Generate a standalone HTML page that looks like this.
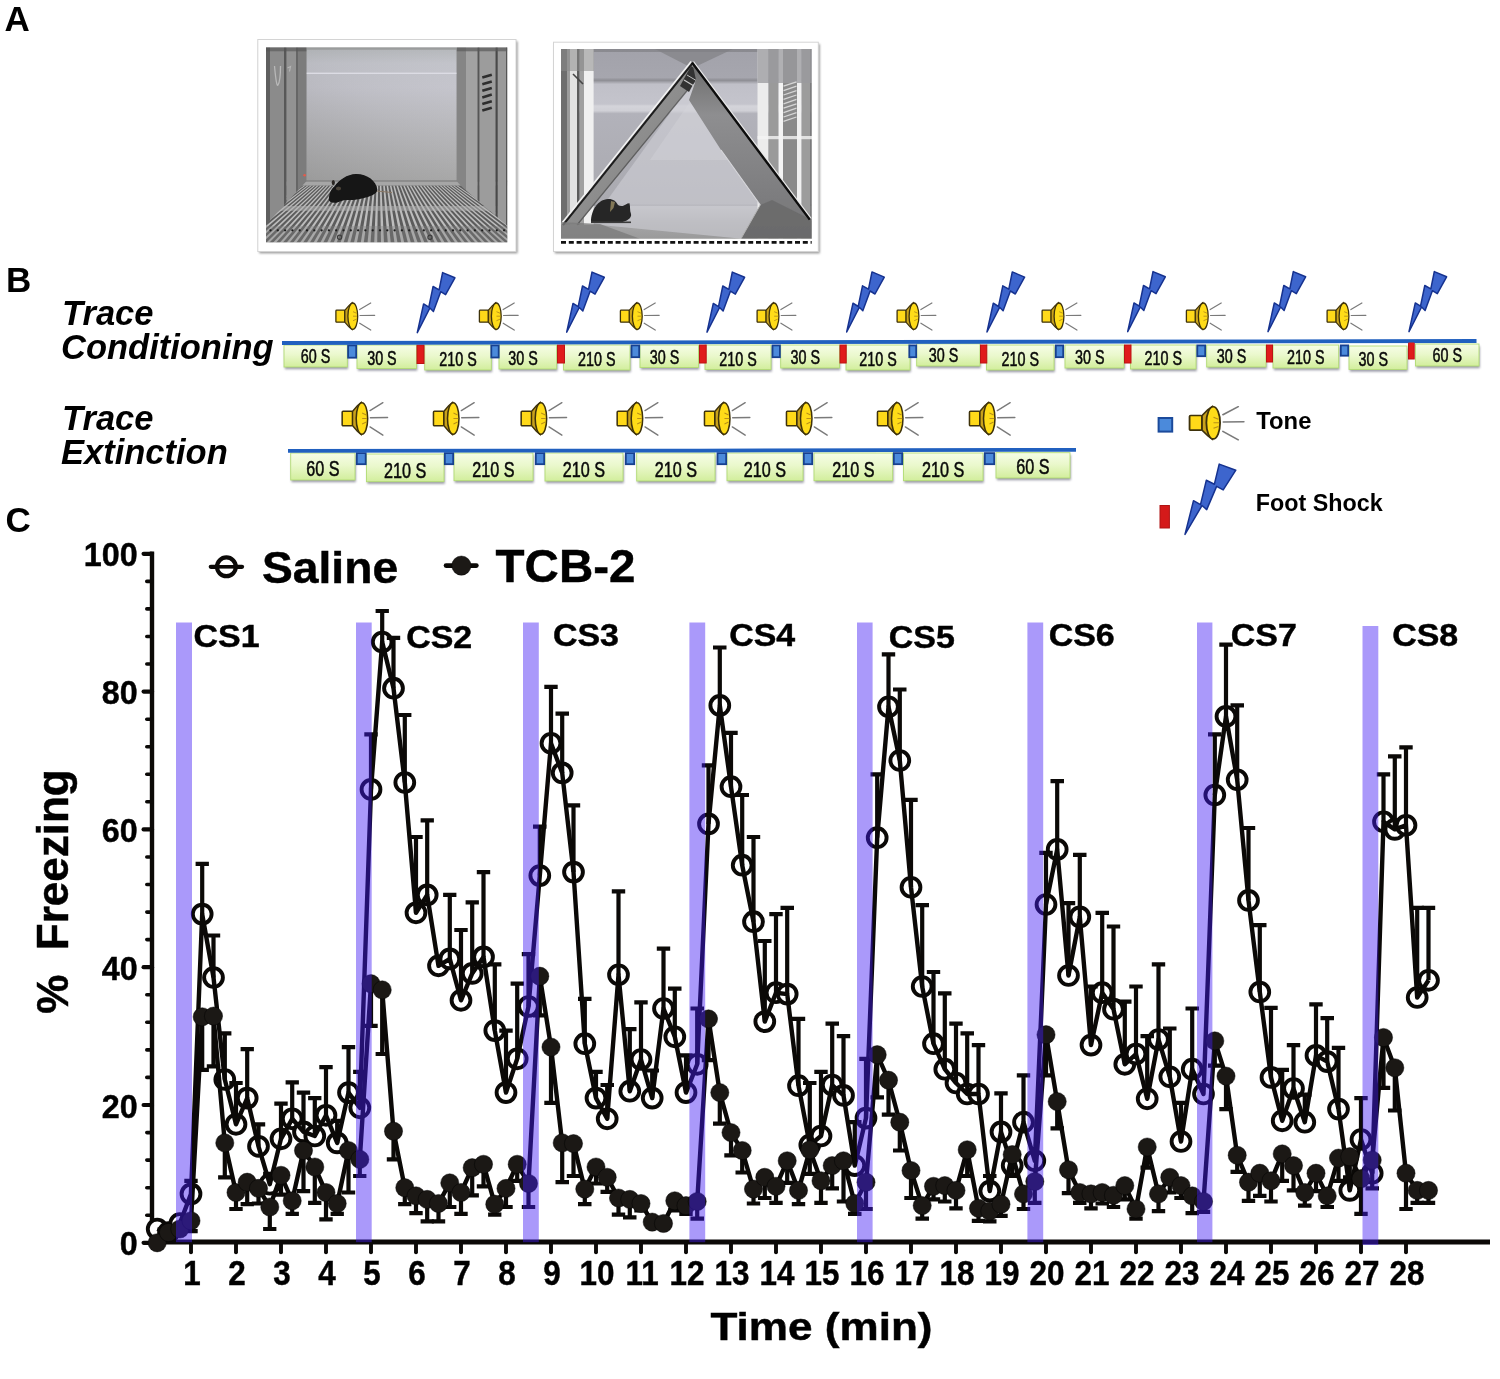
<!DOCTYPE html>
<html lang="en"><head><meta charset="utf-8"><title>Trace fear conditioning: Saline vs TCB-2</title>
<style>html,body{margin:0;padding:0;background:#fff}svg{display:block}</style></head><body>
<svg width="1500" height="1379" viewBox="0 0 1500 1379">
<defs>
<filter id="blur1" x="-10%" y="-30%" width="120%" height="160%"><feGaussianBlur stdDeviation="0.9"/></filter>
<filter id="blur05" x="-2%" y="-2%" width="104%" height="104%"><feGaussianBlur stdDeviation="0.55"/></filter>
<filter id="blur2" x="-5%" y="-5%" width="110%" height="110%"><feGaussianBlur stdDeviation="1.2"/></filter>
<linearGradient id="gb" x1="0" y1="0" x2="0" y2="1"><stop offset="0" stop-color="#f6fde6"/><stop offset="0.45" stop-color="#eaf8cc"/><stop offset="1" stop-color="#d2ee9c"/></linearGradient>
<linearGradient id="bw1" x1="0" y1="0" x2="0" y2="1"><stop offset="0" stop-color="#b0b3b6"/><stop offset="0.12" stop-color="#c0c1c8"/><stop offset="0.3" stop-color="#c3c3cb"/><stop offset="0.6" stop-color="#b8b8bc"/><stop offset="1" stop-color="#a9a9a9"/></linearGradient>
<linearGradient id="bw1d" x1="0" y1="1" x2="1" y2="0"><stop offset="0" stop-color="#808080" stop-opacity="0.35"/><stop offset="0.5" stop-color="#909090" stop-opacity="0.08"/><stop offset="1" stop-color="#fff" stop-opacity="0.05"/></linearGradient>
<linearGradient id="bw2" x1="0" y1="0" x2="0" y2="1"><stop offset="0" stop-color="#a2a2aa"/><stop offset="0.15" stop-color="#a6a6ae"/><stop offset="0.165" stop-color="#8e8e94"/><stop offset="0.185" stop-color="#c0c0c8"/><stop offset="0.29" stop-color="#c4c4cc"/><stop offset="0.30" stop-color="#d4d4da"/><stop offset="0.325" stop-color="#d0d0d6"/><stop offset="0.34" stop-color="#b2b2ba"/><stop offset="0.8" stop-color="#aaaab0"/><stop offset="1" stop-color="#a4a4a8"/></linearGradient>
<linearGradient id="fl2" x1="0" y1="0" x2="0" y2="1"><stop offset="0" stop-color="#bcbcc0"/><stop offset="0.5" stop-color="#a6a6a8"/><stop offset="1" stop-color="#9a9a9a"/></linearGradient>
<linearGradient id="lp2" x1="0" y1="0" x2="1" y2="1"><stop offset="0" stop-color="#6e6e6e"/><stop offset="0.5" stop-color="#8e8e8e"/><stop offset="1" stop-color="#7a7a7a"/></linearGradient>
<linearGradient id="rp2" x1="0" y1="0" x2="0" y2="1"><stop offset="0" stop-color="#6a6a6a"/><stop offset="0.3" stop-color="#8e8e90"/><stop offset="1" stop-color="#747476"/></linearGradient>
<clipPath id="cp1"><rect x="266" y="47.3" width="241.5" height="195.3"/></clipPath>
<clipPath id="cp1L"><polygon points="266,47.3 306.6,47.3 306.6,181 300.8,187.3 266,224.7"/></clipPath>
<clipPath id="cp1R"><polygon points="456.6,47.3 507.6,47.3 507.6,226 462,187 456.6,181"/></clipPath>
<clipPath id="cp2"><rect x="561" y="49" width="250.8" height="189.8"/></clipPath>
</defs>
<rect width="1500" height="1379" fill="#fff"/>
<g font-family="'Liberation Sans', Arial, sans-serif" font-weight="bold" font-size="35" fill="#000">
<text x="4.5" y="31">A</text>
<text x="6" y="292">B</text>
<text x="5.5" y="532">C</text>
</g>
<g id="photo1">
<rect x="259.2" y="41.3" width="258.4" height="212" fill="#9a9a9a" filter="url(#blur2)"/>
<rect x="257.8" y="39.5" width="258.2" height="212" fill="#fff" stroke="#d4d4d4" stroke-width="1"/>
<g clip-path="url(#cp1)"><g filter="url(#blur05)">
<rect x="266" y="47.3" width="241.5" height="195.3" fill="#8c8c8c"/>
<rect x="306.4" y="47.3" width="150.2" height="134" fill="url(#bw1)"/>
<rect x="306.4" y="47.3" width="150.2" height="134" fill="url(#bw1d)"/>
<rect x="306.4" y="72.6" width="150.2" height="1.4" fill="#dcdce4"/>
<rect x="306.4" y="47.3" width="150.2" height="2.4" fill="#9a9c9c"/>
<polygon points="300.8,181 457,181 507.5,226 507.5,242.6 266,242.6 266,224.7" fill="#5c5c5c"/>
<polygon points="300.8,185.5 302.2,185.5 221.6,243 218.6,243" fill="#bdbdbd"/>
<polygon points="304.1,185.5 305.6,185.5 228.4,243 225.4,243" fill="#bdbdbd"/>
<polygon points="307.4,185.5 308.9,185.5 235.2,243 232.2,243" fill="#bdbdbd"/>
<polygon points="310.6,185.5 312.1,185.5 241.9,243 238.9,243" fill="#bdbdbd"/>
<polygon points="313.9,185.5 315.4,185.5 248.7,243 245.7,243" fill="#bdbdbd"/>
<polygon points="317.2,185.5 318.8,185.5 255.5,243 252.5,243" fill="#bdbdbd"/>
<polygon points="320.6,185.5 322.1,185.5 262.2,243 259.2,243" fill="#bdbdbd"/>
<polygon points="323.9,185.5 325.4,185.5 269,243 266,243" fill="#bdbdbd"/>
<polygon points="327.1,185.5 328.6,185.5 275.7,243 272.7,243" fill="#bdbdbd"/>
<polygon points="330.4,185.5 331.9,185.5 282.5,243 279.5,243" fill="#bdbdbd"/>
<polygon points="333.8,185.5 335.2,185.5 289.3,243 286.3,243" fill="#bdbdbd"/>
<polygon points="337.1,185.5 338.6,185.5 296,243 293,243" fill="#bdbdbd"/>
<polygon points="340.4,185.5 341.9,185.5 302.8,243 299.8,243" fill="#bdbdbd"/>
<polygon points="343.6,185.5 345.1,185.5 309.6,243 306.6,243" fill="#bdbdbd"/>
<polygon points="346.9,185.5 348.4,185.5 316.3,243 313.3,243" fill="#bdbdbd"/>
<polygon points="350.2,185.5 351.8,185.5 323.1,243 320.1,243" fill="#bdbdbd"/>
<polygon points="353.6,185.5 355.1,185.5 329.9,243 326.9,243" fill="#bdbdbd"/>
<polygon points="356.9,185.5 358.4,185.5 336.6,243 333.6,243" fill="#bdbdbd"/>
<polygon points="360.1,185.5 361.6,185.5 343.4,243 340.4,243" fill="#bdbdbd"/>
<polygon points="363.4,185.5 364.9,185.5 350.2,243 347.2,243" fill="#bdbdbd"/>
<polygon points="366.8,185.5 368.2,185.5 356.9,243 353.9,243" fill="#bdbdbd"/>
<polygon points="370.1,185.5 371.6,185.5 363.7,243 360.7,243" fill="#bdbdbd"/>
<polygon points="373.4,185.5 374.9,185.5 370.5,243 367.5,243" fill="#bdbdbd"/>
<polygon points="376.6,185.5 378.1,185.5 377.2,243 374.2,243" fill="#bdbdbd"/>
<polygon points="379.9,185.5 381.4,185.5 384,243 381,243" fill="#bdbdbd"/>
<polygon points="383.2,185.5 384.8,185.5 390.8,243 387.8,243" fill="#bdbdbd"/>
<polygon points="386.6,185.5 388.1,185.5 397.5,243 394.5,243" fill="#bdbdbd"/>
<polygon points="389.9,185.5 391.4,185.5 404.3,243 401.3,243" fill="#bdbdbd"/>
<polygon points="393.1,185.5 394.6,185.5 411,243 408,243" fill="#bdbdbd"/>
<polygon points="396.4,185.5 397.9,185.5 417.8,243 414.8,243" fill="#bdbdbd"/>
<polygon points="399.8,185.5 401.2,185.5 424.6,243 421.6,243" fill="#bdbdbd"/>
<polygon points="403.1,185.5 404.6,185.5 431.3,243 428.3,243" fill="#bdbdbd"/>
<polygon points="406.4,185.5 407.9,185.5 438.1,243 435.1,243" fill="#bdbdbd"/>
<polygon points="409.6,185.5 411.1,185.5 444.9,243 441.9,243" fill="#bdbdbd"/>
<polygon points="412.9,185.5 414.4,185.5 451.6,243 448.6,243" fill="#bdbdbd"/>
<polygon points="416.2,185.5 417.8,185.5 458.4,243 455.4,243" fill="#bdbdbd"/>
<polygon points="419.6,185.5 421.1,185.5 465.2,243 462.2,243" fill="#bdbdbd"/>
<polygon points="422.9,185.5 424.4,185.5 471.9,243 468.9,243" fill="#bdbdbd"/>
<polygon points="426.1,185.5 427.6,185.5 478.7,243 475.7,243" fill="#bdbdbd"/>
<polygon points="429.4,185.5 430.9,185.5 485.5,243 482.5,243" fill="#bdbdbd"/>
<polygon points="432.8,185.5 434.2,185.5 492.2,243 489.2,243" fill="#bdbdbd"/>
<polygon points="436,185.5 437.5,185.5 499,243 496,243" fill="#bdbdbd"/>
<polygon points="439.4,185.5 440.9,185.5 505.8,243 502.8,243" fill="#bdbdbd"/>
<polygon points="442.6,185.5 444.1,185.5 512.5,243 509.5,243" fill="#bdbdbd"/>
<polygon points="445.9,185.5 447.4,185.5 519.3,243 516.3,243" fill="#bdbdbd"/>
<polygon points="449.2,185.5 450.8,185.5 526,243 523,243" fill="#bdbdbd"/>
<polygon points="452.5,185.5 454,185.5 532.8,243 529.8,243" fill="#bdbdbd"/>
<polygon points="455.9,185.5 457.4,185.5 539.6,243 536.6,243" fill="#bdbdbd"/>
<rect x="266" y="181" width="241.5" height="4.6" fill="#a6a6a6"/>
<rect x="266" y="180.4" width="241.5" height="1.2" fill="#7c7c7c"/>
<rect x="266" y="206" width="241.5" height="4.8" fill="#b4b4b4" opacity="0.55"/>
<rect x="266" y="226" width="241.5" height="17" fill="#808080" opacity="0.35"/>
<circle cx="270.5" cy="230.3" r="1.15" fill="#1c1c1c"/>
<circle cx="277.8" cy="230.3" r="1.15" fill="#1c1c1c"/>
<circle cx="285.1" cy="230.3" r="1.15" fill="#1c1c1c"/>
<circle cx="292.4" cy="230.3" r="1.15" fill="#1c1c1c"/>
<circle cx="299.7" cy="230.3" r="1.15" fill="#1c1c1c"/>
<circle cx="307" cy="230.3" r="1.15" fill="#1c1c1c"/>
<circle cx="314.3" cy="230.3" r="1.15" fill="#1c1c1c"/>
<circle cx="321.6" cy="230.3" r="1.15" fill="#1c1c1c"/>
<circle cx="328.9" cy="230.3" r="1.15" fill="#1c1c1c"/>
<circle cx="336.2" cy="230.3" r="1.15" fill="#1c1c1c"/>
<circle cx="343.5" cy="230.3" r="1.15" fill="#1c1c1c"/>
<circle cx="350.8" cy="230.3" r="1.15" fill="#1c1c1c"/>
<circle cx="358.1" cy="230.3" r="1.15" fill="#1c1c1c"/>
<circle cx="365.4" cy="230.3" r="1.15" fill="#1c1c1c"/>
<circle cx="372.7" cy="230.3" r="1.15" fill="#1c1c1c"/>
<circle cx="380" cy="230.3" r="1.15" fill="#1c1c1c"/>
<circle cx="387.3" cy="230.3" r="1.15" fill="#1c1c1c"/>
<circle cx="394.6" cy="230.3" r="1.15" fill="#1c1c1c"/>
<circle cx="401.9" cy="230.3" r="1.15" fill="#1c1c1c"/>
<circle cx="409.2" cy="230.3" r="1.15" fill="#1c1c1c"/>
<circle cx="416.5" cy="230.3" r="1.15" fill="#1c1c1c"/>
<circle cx="423.8" cy="230.3" r="1.15" fill="#1c1c1c"/>
<circle cx="431.1" cy="230.3" r="1.15" fill="#1c1c1c"/>
<circle cx="438.4" cy="230.3" r="1.15" fill="#1c1c1c"/>
<circle cx="445.7" cy="230.3" r="1.15" fill="#1c1c1c"/>
<circle cx="453" cy="230.3" r="1.15" fill="#1c1c1c"/>
<circle cx="460.3" cy="230.3" r="1.15" fill="#1c1c1c"/>
<circle cx="467.6" cy="230.3" r="1.15" fill="#1c1c1c"/>
<circle cx="474.9" cy="230.3" r="1.15" fill="#1c1c1c"/>
<circle cx="482.2" cy="230.3" r="1.15" fill="#1c1c1c"/>
<circle cx="489.5" cy="230.3" r="1.15" fill="#1c1c1c"/>
<circle cx="496.8" cy="230.3" r="1.15" fill="#1c1c1c"/>
<circle cx="504.1" cy="230.3" r="1.15" fill="#1c1c1c"/>
<circle cx="511.4" cy="230.3" r="1.15" fill="#1c1c1c"/>
<circle cx="339.6" cy="237.2" r="2.1" fill="none" stroke="#3c3c3c" stroke-width="1.2"/>
<circle cx="430" cy="237.2" r="2.1" fill="none" stroke="#3c3c3c" stroke-width="1.2"/>
<g clip-path="url(#cp1L)">
<rect x="266" y="47" width="4" height="200" fill="#5e5e5e"/>
<rect x="270" y="47" width="14" height="200" fill="#8b8b8b"/>
<rect x="284" y="47" width="2.6" height="200" fill="#585858"/>
<rect x="286.6" y="47" width="9.4" height="200" fill="#929292"/>
<rect x="296" y="47" width="2" height="200" fill="#666"/>
<rect x="298" y="47" width="8.6" height="200" fill="#7b7b7b"/>
<path d="M274.5,66 q2,22 3.5,19 q2.5,-4 2.5,-19" fill="none" stroke="#b8b8b8" stroke-width="1.3"/>
<path d="M287.5,68 l3,-1.5 l-1,5" fill="none" stroke="#b4b4b4" stroke-width="1.2"/>
</g>
<g clip-path="url(#cp1R)">
<rect x="456.6" y="47" width="9.4" height="200" fill="#858585"/>
<rect x="466" y="47" width="11.6" height="200" fill="#a2a2a2"/>
<rect x="477.6" y="47" width="2" height="200" fill="#565656"/>
<rect x="479.6" y="47" width="16" height="200" fill="#9c9c9c"/>
<rect x="495.6" y="47" width="2.2" height="200" fill="#484848"/>
<rect x="497.8" y="47" width="8.2" height="200" fill="#9a9a9a"/>
<rect x="506" y="47" width="1.6" height="200" fill="#555"/>
<line x1="482.3" y1="77.6" x2="491.8" y2="74.8" stroke="#2e2e2e" stroke-width="2.6"/>
<line x1="482.3" y1="84.2" x2="491.8" y2="81.4" stroke="#2e2e2e" stroke-width="2.6"/>
<line x1="482.3" y1="90.8" x2="491.8" y2="88" stroke="#2e2e2e" stroke-width="2.6"/>
<line x1="482.3" y1="97.4" x2="491.8" y2="94.6" stroke="#2e2e2e" stroke-width="2.6"/>
<line x1="482.3" y1="104" x2="491.8" y2="101.2" stroke="#2e2e2e" stroke-width="2.6"/>
<line x1="482.3" y1="110.6" x2="491.8" y2="107.8" stroke="#2e2e2e" stroke-width="2.6"/>
<rect x="456.6" y="47.3" width="51" height="4" fill="#5a5a5a" opacity="0.7"/>
</g>
<rect x="266" y="47.3" width="40.4" height="4" fill="#555" opacity="0.6"/>
<circle cx="304.6" cy="175.2" r="1.3" fill="#e65a4a"/>
<path d="M376.5,191 L392,192.5" stroke="#8a7866" stroke-width="1.1" fill="none"/>
<path d="M328.8,199.8 C329,194 331,189 334.5,186.5 C339,180 347,174.3 356,174 C367,173.8 376.5,181 377.3,189.5 C377.5,194 370,196.5 362,198.5 C352,201 345,199 340,201.5 C336,203.5 329.5,203.5 328.8,199.8 Z" fill="#121212"/>
<ellipse cx="333.3" cy="182.6" rx="1.6" ry="2.6" fill="#2a2622"/>
<ellipse cx="338.5" cy="188.5" rx="2.6" ry="2.1" fill="#4a4238"/>
</g></g>
</g>
<g id="photo2">
<rect x="554.8" y="44" width="265" height="209.4" fill="#9a9a9a" filter="url(#blur2)"/>
<rect x="553.5" y="42.2" width="264.8" height="209.3" fill="#fff" stroke="#d4d4d4" stroke-width="1"/>
<g clip-path="url(#cp2)"><g filter="url(#blur05)">
<rect x="561" y="49" width="250.7" height="190" fill="url(#bw2)"/>
<rect x="561" y="205.5" width="250.7" height="33.5" fill="url(#fl2)"/>
<rect x="561" y="204.6" width="250.7" height="1.2" fill="#8e8e92" opacity="0.8"/>
<polygon points="655,49 733,49 697,66 688,66" fill="#8b8b90"/>
<polygon points="561,49 811.7,49 811.7,52 561,52" fill="#808084" opacity="0.7"/>
<polygon points="694,80 590,224 742,238.7 760,205" fill="#cfcfd6" opacity="0.6"/>
<polygon points="694,96 650,160 735,160 " fill="#d8d8de" opacity="0.35"/>
<rect x="561" y="49" width="6" height="176" fill="#6e6e6e"/>
<rect x="567" y="49" width="3" height="176" fill="#9c9c9c"/>
<rect x="570" y="49" width="7" height="176" fill="#e2e2e2"/>
<rect x="577" y="49" width="2.6" height="176" fill="#5c5c5c"/>
<rect x="579.6" y="49" width="4.4" height="176" fill="#a0a0a0"/>
<rect x="584" y="49" width="9.6" height="176" fill="#f0f0f0"/>
<rect x="561" y="49" width="33" height="22" fill="#8a8a8a" opacity="0.55"/>
<line x1="573" y1="74" x2="583" y2="84" stroke="#444" stroke-width="1.6"/>
<rect x="757.5" y="49" width="11" height="190" fill="#ececec"/>
<rect x="768.5" y="49" width="10.1" height="190" fill="#9a9a9a"/>
<rect x="778.6" y="49" width="4.4" height="190" fill="#f4f4f4"/>
<rect x="783" y="49" width="14" height="190" fill="#8a8a8a"/>
<rect x="797" y="49" width="4.6" height="190" fill="#f0f0f0"/>
<rect x="801.6" y="49" width="8.6" height="190" fill="#9c9c9c"/>
<rect x="810.2" y="49" width="1.6" height="190" fill="#6e6e6e"/>
<rect x="757.5" y="49" width="54.5" height="34" fill="#9a9a9e" opacity="0.75"/>
<line x1="783.5" y1="86.2" x2="796.5" y2="81.8" stroke="#d6d6d6" stroke-width="1.3"/>
<line x1="783.5" y1="90.6" x2="796.5" y2="86.2" stroke="#d6d6d6" stroke-width="1.3"/>
<line x1="783.5" y1="95" x2="796.5" y2="90.6" stroke="#d6d6d6" stroke-width="1.3"/>
<line x1="783.5" y1="99.4" x2="796.5" y2="95" stroke="#d6d6d6" stroke-width="1.3"/>
<line x1="783.5" y1="103.8" x2="796.5" y2="99.4" stroke="#d6d6d6" stroke-width="1.3"/>
<line x1="783.5" y1="108.2" x2="796.5" y2="103.8" stroke="#d6d6d6" stroke-width="1.3"/>
<line x1="783.5" y1="112.6" x2="796.5" y2="108.2" stroke="#d6d6d6" stroke-width="1.3"/>
<line x1="783.5" y1="117" x2="796.5" y2="112.6" stroke="#d6d6d6" stroke-width="1.3"/>
<line x1="783.5" y1="121.4" x2="796.5" y2="117" stroke="#d6d6d6" stroke-width="1.3"/>
<rect x="757.5" y="136" width="54.5" height="3.2" fill="#f4f4f4" opacity="0.8"/>
<polygon points="692.1,62.1 699,76 578,224.7 562,224.7" fill="url(#lp2)"/>
<line x1="691.2" y1="61.6" x2="560.8" y2="224.6" stroke="#f2f2f2" stroke-width="1.6"/>
<line x1="693" y1="62.6" x2="563" y2="225.2" stroke="#1c1c1c" stroke-width="2"/>
<line x1="697.5" y1="78" x2="577" y2="225" stroke="#4a4a4a" stroke-width="1.2" opacity="0.7"/>
<polygon points="691,66 700,72 689,92 680,86" fill="#333"/>
<line x1="684" y1="80" x2="694" y2="86" stroke="#c8c8c8" stroke-width="1.2"/>
<line x1="687" y1="75" x2="697" y2="81" stroke="#bdbdbd" stroke-width="1"/>
<polygon points="692.1,62.1 809.8,219.1 811.8,238.7 741,238.7 760.3,205 721,150 689,100 696,80" fill="url(#rp2)"/>
<polygon points="760.3,205 741,238.7 811.8,238.7 811.8,221 809.8,219.1 772,200" fill="#6a6a6a" opacity="0.85"/>
<line x1="760.3" y1="205" x2="741" y2="238.7" stroke="#b4b4b4" stroke-width="1"/>
<line x1="721" y1="150" x2="760.3" y2="205" stroke="#d8d8dc" stroke-width="1.1"/>
<line x1="693.5" y1="61.6" x2="811.2" y2="218.6" stroke="#e8e8e8" stroke-width="1.3"/>
<line x1="692.1" y1="62.6" x2="809.8" y2="219.6" stroke="#0c0c0c" stroke-width="2.4"/>
<polygon points="561,222 600,224 640,238.7 561,238.7" fill="#7c7c7c" opacity="0.8"/>
<path d="M591,222 C591,210 598,199.5 608,199 C613,198.8 616,201 618,205 C621,207 624,206 627.5,203.5 L629.5,203.2 C630.5,207 629.5,210 631,214 C632,218 627,221.5 620,222.3 Z" fill="#262626"/>
<path d="M611,201 l4,1 l-1.5,6 l-3.5,4 z" fill="#9a8c64" opacity="0.8"/>
<rect x="591" y="221.5" width="40" height="1.6" fill="#3a3a3a"/>
</g></g>
<line x1="561" y1="242.4" x2="811.7" y2="242.4" stroke="#121212" stroke-width="2.6" stroke-dasharray="5 2.8"/>
</g>
<g font-family="'Liberation Sans', Arial, sans-serif">
<g font-weight="bold" font-style="italic" font-size="34.5" fill="#000">
<text x="62" y="325">Trace</text>
<text x="61" y="359">Conditioning</text>
<text x="62" y="430">Trace</text>
<text x="61" y="464">Extinction</text>
</g>
<rect x="284.8" y="347.2" width="63.3" height="22" fill="#7c7c8c" opacity="0.75" filter="url(#blur1)"/>
<rect x="284" y="345" width="63.3" height="22" fill="url(#gb)" stroke="#b2dc74" stroke-width="0.9"/>
<text transform="translate(315.6,363) scale(0.7,1)" text-anchor="middle" font-size="20.5" fill="#0a0a0a" stroke="#0a0a0a" stroke-width="0.55">60 S</text>
<rect x="357.8" y="347.2" width="59.5" height="23.5" fill="#7c7c8c" opacity="0.75" filter="url(#blur1)"/>
<rect x="357" y="345" width="59.5" height="23.5" fill="url(#gb)" stroke="#b2dc74" stroke-width="0.9"/>
<text transform="translate(381.9,364.5) scale(0.7,1)" text-anchor="middle" font-size="20.5" fill="#0a0a0a" stroke="#0a0a0a" stroke-width="0.55">30 S</text>
<rect x="425.5" y="347.2" width="66.6" height="25" fill="#7c7c8c" opacity="0.75" filter="url(#blur1)"/>
<rect x="424.7" y="345" width="66.6" height="25" fill="url(#gb)" stroke="#b2dc74" stroke-width="0.9"/>
<text transform="translate(458,366) scale(0.7,1)" text-anchor="middle" font-size="20.5" fill="#0a0a0a" stroke="#0a0a0a" stroke-width="0.55">210 S</text>
<rect x="499.8" y="347.2" width="57.7" height="24" fill="#7c7c8c" opacity="0.75" filter="url(#blur1)"/>
<rect x="499" y="345" width="57.7" height="24" fill="url(#gb)" stroke="#b2dc74" stroke-width="0.9"/>
<text transform="translate(523.1,365) scale(0.7,1)" text-anchor="middle" font-size="20.5" fill="#0a0a0a" stroke="#0a0a0a" stroke-width="0.55">30 S</text>
<rect x="564.3" y="347.2" width="66.5" height="25" fill="#7c7c8c" opacity="0.75" filter="url(#blur1)"/>
<rect x="563.5" y="345" width="66.5" height="25" fill="url(#gb)" stroke="#b2dc74" stroke-width="0.9"/>
<text transform="translate(596.8,366) scale(0.7,1)" text-anchor="middle" font-size="20.5" fill="#0a0a0a" stroke="#0a0a0a" stroke-width="0.55">210 S</text>
<rect x="640.8" y="347.2" width="58.5" height="22.5" fill="#7c7c8c" opacity="0.75" filter="url(#blur1)"/>
<rect x="640" y="345" width="58.5" height="22.5" fill="url(#gb)" stroke="#b2dc74" stroke-width="0.9"/>
<text transform="translate(664.5,363.5) scale(0.7,1)" text-anchor="middle" font-size="20.5" fill="#0a0a0a" stroke="#0a0a0a" stroke-width="0.55">30 S</text>
<rect x="705.8" y="347.2" width="66" height="24.5" fill="#7c7c8c" opacity="0.75" filter="url(#blur1)"/>
<rect x="705" y="345" width="66" height="24.5" fill="url(#gb)" stroke="#b2dc74" stroke-width="0.9"/>
<text transform="translate(738,365.5) scale(0.7,1)" text-anchor="middle" font-size="20.5" fill="#0a0a0a" stroke="#0a0a0a" stroke-width="0.55">210 S</text>
<rect x="781.5" y="347.2" width="58.8" height="23" fill="#7c7c8c" opacity="0.75" filter="url(#blur1)"/>
<rect x="780.7" y="345" width="58.8" height="23" fill="url(#gb)" stroke="#b2dc74" stroke-width="0.9"/>
<text transform="translate(805.3,364) scale(0.7,1)" text-anchor="middle" font-size="20.5" fill="#0a0a0a" stroke="#0a0a0a" stroke-width="0.55">30 S</text>
<rect x="846.8" y="347.2" width="64" height="25" fill="#7c7c8c" opacity="0.75" filter="url(#blur1)"/>
<rect x="846" y="345" width="64" height="25" fill="url(#gb)" stroke="#b2dc74" stroke-width="0.9"/>
<text transform="translate(878,366) scale(0.7,1)" text-anchor="middle" font-size="20.5" fill="#0a0a0a" stroke="#0a0a0a" stroke-width="0.55">210 S</text>
<rect x="917.5" y="346" width="63.3" height="22.2" fill="#7c7c8c" opacity="0.75" filter="url(#blur1)"/>
<rect x="916.7" y="343.8" width="63.3" height="22.2" fill="url(#gb)" stroke="#b2dc74" stroke-width="0.9"/>
<text transform="translate(943.6,362) scale(0.7,1)" text-anchor="middle" font-size="20.5" fill="#0a0a0a" stroke="#0a0a0a" stroke-width="0.55">30 S</text>
<rect x="987.3" y="347.2" width="67.5" height="25" fill="#7c7c8c" opacity="0.75" filter="url(#blur1)"/>
<rect x="986.5" y="345" width="67.5" height="25" fill="url(#gb)" stroke="#b2dc74" stroke-width="0.9"/>
<text transform="translate(1020.2,366) scale(0.7,1)" text-anchor="middle" font-size="20.5" fill="#0a0a0a" stroke="#0a0a0a" stroke-width="0.55">210 S</text>
<rect x="1065.8" y="347.2" width="59" height="23" fill="#7c7c8c" opacity="0.75" filter="url(#blur1)"/>
<rect x="1065" y="345" width="59" height="23" fill="url(#gb)" stroke="#b2dc74" stroke-width="0.9"/>
<text transform="translate(1089.7,364) scale(0.7,1)" text-anchor="middle" font-size="20.5" fill="#0a0a0a" stroke="#0a0a0a" stroke-width="0.55">30 S</text>
<rect x="1131.3" y="347.2" width="65.5" height="24" fill="#7c7c8c" opacity="0.75" filter="url(#blur1)"/>
<rect x="1130.5" y="345" width="65.5" height="24" fill="url(#gb)" stroke="#b2dc74" stroke-width="0.9"/>
<text transform="translate(1163.2,365) scale(0.7,1)" text-anchor="middle" font-size="20.5" fill="#0a0a0a" stroke="#0a0a0a" stroke-width="0.55">210 S</text>
<rect x="1207.5" y="347.2" width="59.3" height="22" fill="#7c7c8c" opacity="0.75" filter="url(#blur1)"/>
<rect x="1206.7" y="345" width="59.3" height="22" fill="url(#gb)" stroke="#b2dc74" stroke-width="0.9"/>
<text transform="translate(1231.5,363) scale(0.7,1)" text-anchor="middle" font-size="20.5" fill="#0a0a0a" stroke="#0a0a0a" stroke-width="0.55">30 S</text>
<rect x="1273.8" y="347.2" width="65.7" height="23" fill="#7c7c8c" opacity="0.75" filter="url(#blur1)"/>
<rect x="1273" y="345" width="65.7" height="23" fill="url(#gb)" stroke="#b2dc74" stroke-width="0.9"/>
<text transform="translate(1305.8,364) scale(0.7,1)" text-anchor="middle" font-size="20.5" fill="#0a0a0a" stroke="#0a0a0a" stroke-width="0.55">210 S</text>
<rect x="1349.8" y="348.2" width="58" height="23.5" fill="#7c7c8c" opacity="0.75" filter="url(#blur1)"/>
<rect x="1349" y="346" width="58" height="23.5" fill="url(#gb)" stroke="#b2dc74" stroke-width="0.9"/>
<text transform="translate(1373.2,365.5) scale(0.7,1)" text-anchor="middle" font-size="20.5" fill="#0a0a0a" stroke="#0a0a0a" stroke-width="0.55">30 S</text>
<rect x="1416.3" y="346.2" width="63.5" height="22" fill="#7c7c8c" opacity="0.75" filter="url(#blur1)"/>
<rect x="1415.5" y="344" width="63.5" height="22" fill="url(#gb)" stroke="#b2dc74" stroke-width="0.9"/>
<text transform="translate(1447.2,362) scale(0.7,1)" text-anchor="middle" font-size="20.5" fill="#0a0a0a" stroke="#0a0a0a" stroke-width="0.55">60 S</text>
<rect x="348.1" y="345.4" width="8.1" height="12.3" fill="#4b8adb" stroke="#17408f" stroke-width="1.8"/>
<rect x="417" y="345" width="7" height="18.5" fill="#e01b1b" stroke="#bb1515" stroke-width="1"/>
<rect x="491.3" y="345.4" width="7.4" height="12.1" fill="#4b8adb" stroke="#17408f" stroke-width="1.8"/>
<rect x="557.5" y="345" width="7" height="18" fill="#e01b1b" stroke="#bb1515" stroke-width="1"/>
<rect x="631.5" y="345.4" width="7.7" height="11.8" fill="#4b8adb" stroke="#17408f" stroke-width="1.8"/>
<rect x="699.5" y="345" width="6.7" height="18" fill="#e01b1b" stroke="#bb1515" stroke-width="1"/>
<rect x="772.5" y="345.4" width="7.4" height="11.8" fill="#4b8adb" stroke="#17408f" stroke-width="1.8"/>
<rect x="840" y="345" width="6.2" height="18" fill="#e01b1b" stroke="#bb1515" stroke-width="1"/>
<rect x="909.3" y="345.4" width="6.9" height="11.8" fill="#4b8adb" stroke="#17408f" stroke-width="1.8"/>
<rect x="980.5" y="345" width="6.3" height="18" fill="#e01b1b" stroke="#bb1515" stroke-width="1"/>
<rect x="1055.8" y="345.4" width="7.4" height="11.8" fill="#4b8adb" stroke="#17408f" stroke-width="1.8"/>
<rect x="1124.5" y="345" width="6.5" height="18" fill="#e01b1b" stroke="#bb1515" stroke-width="1"/>
<rect x="1197.3" y="345.4" width="7.9" height="10.8" fill="#4b8adb" stroke="#17408f" stroke-width="1.8"/>
<rect x="1266.5" y="345" width="6" height="17" fill="#e01b1b" stroke="#bb1515" stroke-width="1"/>
<rect x="1340.8" y="345.4" width="7.4" height="10.3" fill="#4b8adb" stroke="#17408f" stroke-width="1.8"/>
<rect x="1408.5" y="342.5" width="5.7" height="16.5" fill="#e01b1b" stroke="#bb1515" stroke-width="1"/>
<line x1="282" y1="343" x2="1476.5" y2="341" stroke="#2160bf" stroke-width="3.8"/>
<rect x="1408.5" y="342.5" width="5.7" height="3" fill="#e01b1b"/>
<g transform="translate(335.5,316.2) scale(1.0,1.0)">
<path d="M9,-5.6 L13.4,-10.6 L16.6,-13.3 L16.6,13.3 L13.4,10.6 L9,5.6 Z" fill="#c9a21c" stroke="#3e320a" stroke-width="1.25"/>
<rect x="0.4" y="-6" width="8.8" height="12" rx="0.8" fill="#ffd919" stroke="#3e320a" stroke-width="1.3"/>
<ellipse cx="17.3" cy="0" rx="4.9" ry="13.2" fill="#ffdc18" stroke="#3e320a" stroke-width="1.3"/>
<path d="M17.5,-4.5 L21,-3 M17.5,0 L21.5,0 M17.5,4.5 L21,3" stroke="#b8901a" stroke-width="0.9" fill="none"/>
<path d="M24.2,-6.6 L35.2,-13.2 M24.5,-0.7 L39.2,-0.9 M24.2,7 L35.2,13.9" stroke="#7a7a7a" stroke-width="1.2" fill="none" stroke-linecap="round"/>
</g>
<g transform="translate(479,316.2) scale(1.0,1.0)">
<path d="M9,-5.6 L13.4,-10.6 L16.6,-13.3 L16.6,13.3 L13.4,10.6 L9,5.6 Z" fill="#c9a21c" stroke="#3e320a" stroke-width="1.25"/>
<rect x="0.4" y="-6" width="8.8" height="12" rx="0.8" fill="#ffd919" stroke="#3e320a" stroke-width="1.3"/>
<ellipse cx="17.3" cy="0" rx="4.9" ry="13.2" fill="#ffdc18" stroke="#3e320a" stroke-width="1.3"/>
<path d="M17.5,-4.5 L21,-3 M17.5,0 L21.5,0 M17.5,4.5 L21,3" stroke="#b8901a" stroke-width="0.9" fill="none"/>
<path d="M24.2,-6.6 L35.2,-13.2 M24.5,-0.7 L39.2,-0.9 M24.2,7 L35.2,13.9" stroke="#7a7a7a" stroke-width="1.2" fill="none" stroke-linecap="round"/>
</g>
<g transform="translate(620,316.2) scale(1.0,1.0)">
<path d="M9,-5.6 L13.4,-10.6 L16.6,-13.3 L16.6,13.3 L13.4,10.6 L9,5.6 Z" fill="#c9a21c" stroke="#3e320a" stroke-width="1.25"/>
<rect x="0.4" y="-6" width="8.8" height="12" rx="0.8" fill="#ffd919" stroke="#3e320a" stroke-width="1.3"/>
<ellipse cx="17.3" cy="0" rx="4.9" ry="13.2" fill="#ffdc18" stroke="#3e320a" stroke-width="1.3"/>
<path d="M17.5,-4.5 L21,-3 M17.5,0 L21.5,0 M17.5,4.5 L21,3" stroke="#b8901a" stroke-width="0.9" fill="none"/>
<path d="M24.2,-6.6 L35.2,-13.2 M24.5,-0.7 L39.2,-0.9 M24.2,7 L35.2,13.9" stroke="#7a7a7a" stroke-width="1.2" fill="none" stroke-linecap="round"/>
</g>
<g transform="translate(756.7,316.2) scale(1.0,1.0)">
<path d="M9,-5.6 L13.4,-10.6 L16.6,-13.3 L16.6,13.3 L13.4,10.6 L9,5.6 Z" fill="#c9a21c" stroke="#3e320a" stroke-width="1.25"/>
<rect x="0.4" y="-6" width="8.8" height="12" rx="0.8" fill="#ffd919" stroke="#3e320a" stroke-width="1.3"/>
<ellipse cx="17.3" cy="0" rx="4.9" ry="13.2" fill="#ffdc18" stroke="#3e320a" stroke-width="1.3"/>
<path d="M17.5,-4.5 L21,-3 M17.5,0 L21.5,0 M17.5,4.5 L21,3" stroke="#b8901a" stroke-width="0.9" fill="none"/>
<path d="M24.2,-6.6 L35.2,-13.2 M24.5,-0.7 L39.2,-0.9 M24.2,7 L35.2,13.9" stroke="#7a7a7a" stroke-width="1.2" fill="none" stroke-linecap="round"/>
</g>
<g transform="translate(896.7,316.2) scale(1.0,1.0)">
<path d="M9,-5.6 L13.4,-10.6 L16.6,-13.3 L16.6,13.3 L13.4,10.6 L9,5.6 Z" fill="#c9a21c" stroke="#3e320a" stroke-width="1.25"/>
<rect x="0.4" y="-6" width="8.8" height="12" rx="0.8" fill="#ffd919" stroke="#3e320a" stroke-width="1.3"/>
<ellipse cx="17.3" cy="0" rx="4.9" ry="13.2" fill="#ffdc18" stroke="#3e320a" stroke-width="1.3"/>
<path d="M17.5,-4.5 L21,-3 M17.5,0 L21.5,0 M17.5,4.5 L21,3" stroke="#b8901a" stroke-width="0.9" fill="none"/>
<path d="M24.2,-6.6 L35.2,-13.2 M24.5,-0.7 L39.2,-0.9 M24.2,7 L35.2,13.9" stroke="#7a7a7a" stroke-width="1.2" fill="none" stroke-linecap="round"/>
</g>
<g transform="translate(1041.7,316.2) scale(1.0,1.0)">
<path d="M9,-5.6 L13.4,-10.6 L16.6,-13.3 L16.6,13.3 L13.4,10.6 L9,5.6 Z" fill="#c9a21c" stroke="#3e320a" stroke-width="1.25"/>
<rect x="0.4" y="-6" width="8.8" height="12" rx="0.8" fill="#ffd919" stroke="#3e320a" stroke-width="1.3"/>
<ellipse cx="17.3" cy="0" rx="4.9" ry="13.2" fill="#ffdc18" stroke="#3e320a" stroke-width="1.3"/>
<path d="M17.5,-4.5 L21,-3 M17.5,0 L21.5,0 M17.5,4.5 L21,3" stroke="#b8901a" stroke-width="0.9" fill="none"/>
<path d="M24.2,-6.6 L35.2,-13.2 M24.5,-0.7 L39.2,-0.9 M24.2,7 L35.2,13.9" stroke="#7a7a7a" stroke-width="1.2" fill="none" stroke-linecap="round"/>
</g>
<g transform="translate(1186,316.2) scale(1.0,1.0)">
<path d="M9,-5.6 L13.4,-10.6 L16.6,-13.3 L16.6,13.3 L13.4,10.6 L9,5.6 Z" fill="#c9a21c" stroke="#3e320a" stroke-width="1.25"/>
<rect x="0.4" y="-6" width="8.8" height="12" rx="0.8" fill="#ffd919" stroke="#3e320a" stroke-width="1.3"/>
<ellipse cx="17.3" cy="0" rx="4.9" ry="13.2" fill="#ffdc18" stroke="#3e320a" stroke-width="1.3"/>
<path d="M17.5,-4.5 L21,-3 M17.5,0 L21.5,0 M17.5,4.5 L21,3" stroke="#b8901a" stroke-width="0.9" fill="none"/>
<path d="M24.2,-6.6 L35.2,-13.2 M24.5,-0.7 L39.2,-0.9 M24.2,7 L35.2,13.9" stroke="#7a7a7a" stroke-width="1.2" fill="none" stroke-linecap="round"/>
</g>
<g transform="translate(1326.7,316.2) scale(1.0,1.0)">
<path d="M9,-5.6 L13.4,-10.6 L16.6,-13.3 L16.6,13.3 L13.4,10.6 L9,5.6 Z" fill="#c9a21c" stroke="#3e320a" stroke-width="1.25"/>
<rect x="0.4" y="-6" width="8.8" height="12" rx="0.8" fill="#ffd919" stroke="#3e320a" stroke-width="1.3"/>
<ellipse cx="17.3" cy="0" rx="4.9" ry="13.2" fill="#ffdc18" stroke="#3e320a" stroke-width="1.3"/>
<path d="M17.5,-4.5 L21,-3 M17.5,0 L21.5,0 M17.5,4.5 L21,3" stroke="#b8901a" stroke-width="0.9" fill="none"/>
<path d="M24.2,-6.6 L35.2,-13.2 M24.5,-0.7 L39.2,-0.9 M24.2,7 L35.2,13.9" stroke="#7a7a7a" stroke-width="1.2" fill="none" stroke-linecap="round"/>
</g>
<polygon points="442.6,272.6 454.9,277.8 445.6,294.7 440.7,291.7 433.4,311.5 429.9,308 417.3,332.7 423.6,303.9 428.8,307.2 433.1,286.5 439.1,289.8" fill="#3d65cd" stroke="#16328f" stroke-width="1.5" stroke-linejoin="round"/>
<polygon points="592,272.1 604.3,277.3 595,294.2 590.1,291.2 582.8,311 579.3,307.5 566.7,332.2 573,303.4 578.2,306.7 582.5,286 588.5,289.3" fill="#3d65cd" stroke="#16328f" stroke-width="1.5" stroke-linejoin="round"/>
<polygon points="732.3,272.1 744.6,277.3 735.3,294.2 730.4,291.2 723.1,311 719.6,307.5 707,332.2 713.3,303.4 718.5,306.7 722.8,286 728.8,289.3" fill="#3d65cd" stroke="#16328f" stroke-width="1.5" stroke-linejoin="round"/>
<polygon points="872,271.9 884.3,277.1 875,294 870.1,291 862.8,310.8 859.3,307.3 846.7,332 853,303.2 858.2,306.5 862.5,285.8 868.5,289.1" fill="#3d65cd" stroke="#16328f" stroke-width="1.5" stroke-linejoin="round"/>
<polygon points="1012.3,271.9 1024.6,277.1 1015.3,294 1010.4,291 1003.1,310.8 999.6,307.3 987,332 993.3,303.2 998.5,306.5 1002.8,285.8 1008.8,289.1" fill="#3d65cd" stroke="#16328f" stroke-width="1.5" stroke-linejoin="round"/>
<polygon points="1153,271.6 1165.3,276.8 1156,293.7 1151.1,290.7 1143.8,310.5 1140.3,307 1127.7,331.7 1134,302.9 1139.2,306.2 1143.5,285.5 1149.5,288.8" fill="#3d65cd" stroke="#16328f" stroke-width="1.5" stroke-linejoin="round"/>
<polygon points="1293.3,271.6 1305.6,276.8 1296.3,293.7 1291.4,290.7 1284.1,310.5 1280.6,307 1268,331.7 1274.3,302.9 1279.5,306.2 1283.8,285.5 1289.8,288.8" fill="#3d65cd" stroke="#16328f" stroke-width="1.5" stroke-linejoin="round"/>
<polygon points="1434.3,271.6 1446.6,276.8 1437.3,293.7 1432.4,290.7 1425.1,310.5 1421.6,307 1409,331.7 1415.3,302.9 1420.5,306.2 1424.8,285.5 1430.8,288.8" fill="#3d65cd" stroke="#16328f" stroke-width="1.5" stroke-linejoin="round"/>
<rect x="291.5" y="455.2" width="64.3" height="27" fill="#7c7c8c" opacity="0.75" filter="url(#blur1)"/>
<rect x="290.7" y="453" width="64.3" height="27" fill="url(#gb)" stroke="#b2dc74" stroke-width="0.9"/>
<text transform="translate(322.9,475.8) scale(0.72,1)" text-anchor="middle" font-size="22.5" fill="#0a0a0a" stroke="#0a0a0a" stroke-width="0.55">60 S</text>
<rect x="367.3" y="456.2" width="77.5" height="27.7" fill="#7c7c8c" opacity="0.75" filter="url(#blur1)"/>
<rect x="366.5" y="454" width="77.5" height="27.7" fill="url(#gb)" stroke="#b2dc74" stroke-width="0.9"/>
<text transform="translate(405.2,477.5) scale(0.72,1)" text-anchor="middle" font-size="22.5" fill="#0a0a0a" stroke="#0a0a0a" stroke-width="0.55">210 S</text>
<rect x="454.8" y="455.2" width="79" height="27.7" fill="#7c7c8c" opacity="0.75" filter="url(#blur1)"/>
<rect x="454" y="453" width="79" height="27.7" fill="url(#gb)" stroke="#b2dc74" stroke-width="0.9"/>
<text transform="translate(493.5,476.5) scale(0.72,1)" text-anchor="middle" font-size="22.5" fill="#0a0a0a" stroke="#0a0a0a" stroke-width="0.55">210 S</text>
<rect x="545.8" y="455.2" width="78" height="28" fill="#7c7c8c" opacity="0.75" filter="url(#blur1)"/>
<rect x="545" y="453" width="78" height="28" fill="url(#gb)" stroke="#b2dc74" stroke-width="0.9"/>
<text transform="translate(584,476.8) scale(0.72,1)" text-anchor="middle" font-size="22.5" fill="#0a0a0a" stroke="#0a0a0a" stroke-width="0.55">210 S</text>
<rect x="637.5" y="455.2" width="78.3" height="28" fill="#7c7c8c" opacity="0.75" filter="url(#blur1)"/>
<rect x="636.7" y="453" width="78.3" height="28" fill="url(#gb)" stroke="#b2dc74" stroke-width="0.9"/>
<text transform="translate(675.9,476.8) scale(0.72,1)" text-anchor="middle" font-size="22.5" fill="#0a0a0a" stroke="#0a0a0a" stroke-width="0.55">210 S</text>
<rect x="727.8" y="455.2" width="76" height="27.7" fill="#7c7c8c" opacity="0.75" filter="url(#blur1)"/>
<rect x="727" y="453" width="76" height="27.7" fill="url(#gb)" stroke="#b2dc74" stroke-width="0.9"/>
<text transform="translate(765,476.5) scale(0.72,1)" text-anchor="middle" font-size="22.5" fill="#0a0a0a" stroke="#0a0a0a" stroke-width="0.55">210 S</text>
<rect x="814.8" y="455.2" width="78.7" height="27.7" fill="#7c7c8c" opacity="0.75" filter="url(#blur1)"/>
<rect x="814" y="453" width="78.7" height="27.7" fill="url(#gb)" stroke="#b2dc74" stroke-width="0.9"/>
<text transform="translate(853.4,476.5) scale(0.72,1)" text-anchor="middle" font-size="22.5" fill="#0a0a0a" stroke="#0a0a0a" stroke-width="0.55">210 S</text>
<rect x="904.3" y="455.2" width="79.5" height="27.7" fill="#7c7c8c" opacity="0.75" filter="url(#blur1)"/>
<rect x="903.5" y="453" width="79.5" height="27.7" fill="url(#gb)" stroke="#b2dc74" stroke-width="0.9"/>
<text transform="translate(943.2,476.5) scale(0.72,1)" text-anchor="middle" font-size="22.5" fill="#0a0a0a" stroke="#0a0a0a" stroke-width="0.55">210 S</text>
<rect x="996.8" y="454.9" width="74" height="25.3" fill="#7c7c8c" opacity="0.75" filter="url(#blur1)"/>
<rect x="996" y="452.7" width="74" height="25.3" fill="url(#gb)" stroke="#b2dc74" stroke-width="0.9"/>
<text transform="translate(1033,473.8) scale(0.72,1)" text-anchor="middle" font-size="22.5" fill="#0a0a0a" stroke="#0a0a0a" stroke-width="0.55">60 S</text>
<rect x="356.8" y="453.1" width="8.9" height="11.1" fill="#4b8adb" stroke="#17408f" stroke-width="1.8"/>
<rect x="444.8" y="453.1" width="8.4" height="11.1" fill="#4b8adb" stroke="#17408f" stroke-width="1.8"/>
<rect x="535.8" y="453.1" width="8.4" height="11.1" fill="#4b8adb" stroke="#17408f" stroke-width="1.8"/>
<rect x="625.8" y="453.1" width="8.4" height="11.1" fill="#4b8adb" stroke="#17408f" stroke-width="1.8"/>
<rect x="717.5" y="453.1" width="8.7" height="11.1" fill="#4b8adb" stroke="#17408f" stroke-width="1.8"/>
<rect x="803.8" y="453.1" width="8.4" height="11.1" fill="#4b8adb" stroke="#17408f" stroke-width="1.8"/>
<rect x="893.8" y="453.1" width="8.4" height="11.1" fill="#4b8adb" stroke="#17408f" stroke-width="1.8"/>
<rect x="984.8" y="453.1" width="9.4" height="11.1" fill="#4b8adb" stroke="#17408f" stroke-width="1.8"/>
<path d="M288,450.8 L700,450.6 L1076,449.8" stroke="#2160bf" stroke-width="3.8" fill="none"/>
<g transform="translate(341.7,418.5) scale(1.17,1.2)">
<path d="M9,-5.6 L13.4,-10.6 L16.6,-13.3 L16.6,13.3 L13.4,10.6 L9,5.6 Z" fill="#c9a21c" stroke="#3e320a" stroke-width="1.25"/>
<rect x="0.4" y="-6" width="8.8" height="12" rx="0.8" fill="#ffd919" stroke="#3e320a" stroke-width="1.3"/>
<ellipse cx="17.3" cy="0" rx="4.9" ry="13.2" fill="#ffdc18" stroke="#3e320a" stroke-width="1.3"/>
<path d="M17.5,-4.5 L21,-3 M17.5,0 L21.5,0 M17.5,4.5 L21,3" stroke="#b8901a" stroke-width="0.9" fill="none"/>
<path d="M24.2,-6.6 L35.2,-13.2 M24.5,-0.7 L39.2,-0.9 M24.2,7 L35.2,13.9" stroke="#7a7a7a" stroke-width="1.2" fill="none" stroke-linecap="round"/>
</g>
<g transform="translate(433,418.5) scale(1.17,1.2)">
<path d="M9,-5.6 L13.4,-10.6 L16.6,-13.3 L16.6,13.3 L13.4,10.6 L9,5.6 Z" fill="#c9a21c" stroke="#3e320a" stroke-width="1.25"/>
<rect x="0.4" y="-6" width="8.8" height="12" rx="0.8" fill="#ffd919" stroke="#3e320a" stroke-width="1.3"/>
<ellipse cx="17.3" cy="0" rx="4.9" ry="13.2" fill="#ffdc18" stroke="#3e320a" stroke-width="1.3"/>
<path d="M17.5,-4.5 L21,-3 M17.5,0 L21.5,0 M17.5,4.5 L21,3" stroke="#b8901a" stroke-width="0.9" fill="none"/>
<path d="M24.2,-6.6 L35.2,-13.2 M24.5,-0.7 L39.2,-0.9 M24.2,7 L35.2,13.9" stroke="#7a7a7a" stroke-width="1.2" fill="none" stroke-linecap="round"/>
</g>
<g transform="translate(520.7,418.5) scale(1.17,1.2)">
<path d="M9,-5.6 L13.4,-10.6 L16.6,-13.3 L16.6,13.3 L13.4,10.6 L9,5.6 Z" fill="#c9a21c" stroke="#3e320a" stroke-width="1.25"/>
<rect x="0.4" y="-6" width="8.8" height="12" rx="0.8" fill="#ffd919" stroke="#3e320a" stroke-width="1.3"/>
<ellipse cx="17.3" cy="0" rx="4.9" ry="13.2" fill="#ffdc18" stroke="#3e320a" stroke-width="1.3"/>
<path d="M17.5,-4.5 L21,-3 M17.5,0 L21.5,0 M17.5,4.5 L21,3" stroke="#b8901a" stroke-width="0.9" fill="none"/>
<path d="M24.2,-6.6 L35.2,-13.2 M24.5,-0.7 L39.2,-0.9 M24.2,7 L35.2,13.9" stroke="#7a7a7a" stroke-width="1.2" fill="none" stroke-linecap="round"/>
</g>
<g transform="translate(616.7,418.5) scale(1.17,1.2)">
<path d="M9,-5.6 L13.4,-10.6 L16.6,-13.3 L16.6,13.3 L13.4,10.6 L9,5.6 Z" fill="#c9a21c" stroke="#3e320a" stroke-width="1.25"/>
<rect x="0.4" y="-6" width="8.8" height="12" rx="0.8" fill="#ffd919" stroke="#3e320a" stroke-width="1.3"/>
<ellipse cx="17.3" cy="0" rx="4.9" ry="13.2" fill="#ffdc18" stroke="#3e320a" stroke-width="1.3"/>
<path d="M17.5,-4.5 L21,-3 M17.5,0 L21.5,0 M17.5,4.5 L21,3" stroke="#b8901a" stroke-width="0.9" fill="none"/>
<path d="M24.2,-6.6 L35.2,-13.2 M24.5,-0.7 L39.2,-0.9 M24.2,7 L35.2,13.9" stroke="#7a7a7a" stroke-width="1.2" fill="none" stroke-linecap="round"/>
</g>
<g transform="translate(704,418.5) scale(1.17,1.2)">
<path d="M9,-5.6 L13.4,-10.6 L16.6,-13.3 L16.6,13.3 L13.4,10.6 L9,5.6 Z" fill="#c9a21c" stroke="#3e320a" stroke-width="1.25"/>
<rect x="0.4" y="-6" width="8.8" height="12" rx="0.8" fill="#ffd919" stroke="#3e320a" stroke-width="1.3"/>
<ellipse cx="17.3" cy="0" rx="4.9" ry="13.2" fill="#ffdc18" stroke="#3e320a" stroke-width="1.3"/>
<path d="M17.5,-4.5 L21,-3 M17.5,0 L21.5,0 M17.5,4.5 L21,3" stroke="#b8901a" stroke-width="0.9" fill="none"/>
<path d="M24.2,-6.6 L35.2,-13.2 M24.5,-0.7 L39.2,-0.9 M24.2,7 L35.2,13.9" stroke="#7a7a7a" stroke-width="1.2" fill="none" stroke-linecap="round"/>
</g>
<g transform="translate(786,418.5) scale(1.17,1.2)">
<path d="M9,-5.6 L13.4,-10.6 L16.6,-13.3 L16.6,13.3 L13.4,10.6 L9,5.6 Z" fill="#c9a21c" stroke="#3e320a" stroke-width="1.25"/>
<rect x="0.4" y="-6" width="8.8" height="12" rx="0.8" fill="#ffd919" stroke="#3e320a" stroke-width="1.3"/>
<ellipse cx="17.3" cy="0" rx="4.9" ry="13.2" fill="#ffdc18" stroke="#3e320a" stroke-width="1.3"/>
<path d="M17.5,-4.5 L21,-3 M17.5,0 L21.5,0 M17.5,4.5 L21,3" stroke="#b8901a" stroke-width="0.9" fill="none"/>
<path d="M24.2,-6.6 L35.2,-13.2 M24.5,-0.7 L39.2,-0.9 M24.2,7 L35.2,13.9" stroke="#7a7a7a" stroke-width="1.2" fill="none" stroke-linecap="round"/>
</g>
<g transform="translate(877,418.5) scale(1.17,1.2)">
<path d="M9,-5.6 L13.4,-10.6 L16.6,-13.3 L16.6,13.3 L13.4,10.6 L9,5.6 Z" fill="#c9a21c" stroke="#3e320a" stroke-width="1.25"/>
<rect x="0.4" y="-6" width="8.8" height="12" rx="0.8" fill="#ffd919" stroke="#3e320a" stroke-width="1.3"/>
<ellipse cx="17.3" cy="0" rx="4.9" ry="13.2" fill="#ffdc18" stroke="#3e320a" stroke-width="1.3"/>
<path d="M17.5,-4.5 L21,-3 M17.5,0 L21.5,0 M17.5,4.5 L21,3" stroke="#b8901a" stroke-width="0.9" fill="none"/>
<path d="M24.2,-6.6 L35.2,-13.2 M24.5,-0.7 L39.2,-0.9 M24.2,7 L35.2,13.9" stroke="#7a7a7a" stroke-width="1.2" fill="none" stroke-linecap="round"/>
</g>
<g transform="translate(969,418.5) scale(1.17,1.2)">
<path d="M9,-5.6 L13.4,-10.6 L16.6,-13.3 L16.6,13.3 L13.4,10.6 L9,5.6 Z" fill="#c9a21c" stroke="#3e320a" stroke-width="1.25"/>
<rect x="0.4" y="-6" width="8.8" height="12" rx="0.8" fill="#ffd919" stroke="#3e320a" stroke-width="1.3"/>
<ellipse cx="17.3" cy="0" rx="4.9" ry="13.2" fill="#ffdc18" stroke="#3e320a" stroke-width="1.3"/>
<path d="M17.5,-4.5 L21,-3 M17.5,0 L21.5,0 M17.5,4.5 L21,3" stroke="#b8901a" stroke-width="0.9" fill="none"/>
<path d="M24.2,-6.6 L35.2,-13.2 M24.5,-0.7 L39.2,-0.9 M24.2,7 L35.2,13.9" stroke="#7a7a7a" stroke-width="1.2" fill="none" stroke-linecap="round"/>
</g>
<rect x="1158.6" y="418" width="13.6" height="13.6" fill="#4b8adb" stroke="#1b4a9b" stroke-width="2"/>
<g transform="translate(1189,422.8) scale(1.4,1.22)">
<path d="M9,-5.6 L13.4,-10.6 L16.6,-13.3 L16.6,13.3 L13.4,10.6 L9,5.6 Z" fill="#c9a21c" stroke="#3e320a" stroke-width="1.25"/>
<rect x="0.4" y="-6" width="8.8" height="12" rx="0.8" fill="#ffd919" stroke="#3e320a" stroke-width="1.3"/>
<ellipse cx="17.3" cy="0" rx="4.9" ry="13.2" fill="#ffdc18" stroke="#3e320a" stroke-width="1.3"/>
<path d="M17.5,-4.5 L21,-3 M17.5,0 L21.5,0 M17.5,4.5 L21,3" stroke="#b8901a" stroke-width="0.9" fill="none"/>
<path d="M24.2,-6.6 L35.2,-13.2 M24.5,-0.7 L39.2,-0.9 M24.2,7 L35.2,13.9" stroke="#7a7a7a" stroke-width="1.2" fill="none" stroke-linecap="round"/>
</g>
<text x="1256.3" y="429" font-weight="bold" font-size="23.8" fill="#000">Tone</text>
<rect x="1160" y="505.5" width="9.4" height="22.5" fill="#d41a1a" stroke="#b01414" stroke-width="1"/>
<polygon points="1219.2,464.1 1235.8,470.2 1223.2,489.9 1216.6,486.4 1206.7,509.6 1202,505.5 1185,534.4 1193.5,500.7 1200.5,504.6 1206.3,480.3 1214.4,484.2" fill="#3d65cd" stroke="#16328f" stroke-width="1.5" stroke-linejoin="round"/>
<text x="1255.8" y="511" font-weight="bold" font-size="23.3" fill="#000">Foot Shock</text>
</g>
<g font-family="'Liberation Sans', Arial, sans-serif" font-weight="bold" fill="#000" stroke="#000" stroke-width="0.45">
<line x1="152" y1="551.4" x2="152" y2="1244.2" stroke="#0b0907" stroke-width="4.4"/>
<line x1="149.8" y1="1242" x2="1490" y2="1242" stroke="#0b0907" stroke-width="4.8"/>
<line x1="143.6" y1="1242.8" x2="152" y2="1242.8" stroke="#0b0907" stroke-width="4.2" stroke-linecap="round"/>
<line x1="146.8" y1="1215.2" x2="152" y2="1215.2" stroke="#0b0907" stroke-width="3.6" stroke-linecap="round"/>
<line x1="146.8" y1="1187.7" x2="152" y2="1187.7" stroke="#0b0907" stroke-width="3.6" stroke-linecap="round"/>
<line x1="146.8" y1="1160.1" x2="152" y2="1160.1" stroke="#0b0907" stroke-width="3.6" stroke-linecap="round"/>
<line x1="146.8" y1="1132.6" x2="152" y2="1132.6" stroke="#0b0907" stroke-width="3.6" stroke-linecap="round"/>
<line x1="143.6" y1="1105" x2="152" y2="1105" stroke="#0b0907" stroke-width="4.2" stroke-linecap="round"/>
<line x1="146.8" y1="1077.4" x2="152" y2="1077.4" stroke="#0b0907" stroke-width="3.6" stroke-linecap="round"/>
<line x1="146.8" y1="1049.9" x2="152" y2="1049.9" stroke="#0b0907" stroke-width="3.6" stroke-linecap="round"/>
<line x1="146.8" y1="1022.3" x2="152" y2="1022.3" stroke="#0b0907" stroke-width="3.6" stroke-linecap="round"/>
<line x1="146.8" y1="994.8" x2="152" y2="994.8" stroke="#0b0907" stroke-width="3.6" stroke-linecap="round"/>
<line x1="143.6" y1="967.2" x2="152" y2="967.2" stroke="#0b0907" stroke-width="4.2" stroke-linecap="round"/>
<line x1="146.8" y1="939.6" x2="152" y2="939.6" stroke="#0b0907" stroke-width="3.6" stroke-linecap="round"/>
<line x1="146.8" y1="912.1" x2="152" y2="912.1" stroke="#0b0907" stroke-width="3.6" stroke-linecap="round"/>
<line x1="146.8" y1="884.5" x2="152" y2="884.5" stroke="#0b0907" stroke-width="3.6" stroke-linecap="round"/>
<line x1="146.8" y1="857" x2="152" y2="857" stroke="#0b0907" stroke-width="3.6" stroke-linecap="round"/>
<line x1="143.6" y1="829.4" x2="152" y2="829.4" stroke="#0b0907" stroke-width="4.2" stroke-linecap="round"/>
<line x1="146.8" y1="801.8" x2="152" y2="801.8" stroke="#0b0907" stroke-width="3.6" stroke-linecap="round"/>
<line x1="146.8" y1="774.3" x2="152" y2="774.3" stroke="#0b0907" stroke-width="3.6" stroke-linecap="round"/>
<line x1="146.8" y1="746.7" x2="152" y2="746.7" stroke="#0b0907" stroke-width="3.6" stroke-linecap="round"/>
<line x1="146.8" y1="719.2" x2="152" y2="719.2" stroke="#0b0907" stroke-width="3.6" stroke-linecap="round"/>
<line x1="143.6" y1="691.6" x2="152" y2="691.6" stroke="#0b0907" stroke-width="4.2" stroke-linecap="round"/>
<line x1="146.8" y1="664" x2="152" y2="664" stroke="#0b0907" stroke-width="3.6" stroke-linecap="round"/>
<line x1="146.8" y1="636.5" x2="152" y2="636.5" stroke="#0b0907" stroke-width="3.6" stroke-linecap="round"/>
<line x1="146.8" y1="608.9" x2="152" y2="608.9" stroke="#0b0907" stroke-width="3.6" stroke-linecap="round"/>
<line x1="146.8" y1="581.4" x2="152" y2="581.4" stroke="#0b0907" stroke-width="3.6" stroke-linecap="round"/>
<line x1="143.6" y1="553.8" x2="152" y2="553.8" stroke="#0b0907" stroke-width="4.2" stroke-linecap="round"/>
<line x1="191" y1="1242" x2="191" y2="1252.2" stroke="#0b0907" stroke-width="3.9" stroke-linecap="round"/>
<line x1="236" y1="1242" x2="236" y2="1252.2" stroke="#0b0907" stroke-width="3.9" stroke-linecap="round"/>
<line x1="281" y1="1242" x2="281" y2="1252.2" stroke="#0b0907" stroke-width="3.9" stroke-linecap="round"/>
<line x1="326" y1="1242" x2="326" y2="1252.2" stroke="#0b0907" stroke-width="3.9" stroke-linecap="round"/>
<line x1="371" y1="1242" x2="371" y2="1252.2" stroke="#0b0907" stroke-width="3.9" stroke-linecap="round"/>
<line x1="416" y1="1242" x2="416" y2="1252.2" stroke="#0b0907" stroke-width="3.9" stroke-linecap="round"/>
<line x1="461" y1="1242" x2="461" y2="1252.2" stroke="#0b0907" stroke-width="3.9" stroke-linecap="round"/>
<line x1="506" y1="1242" x2="506" y2="1252.2" stroke="#0b0907" stroke-width="3.9" stroke-linecap="round"/>
<line x1="551" y1="1242" x2="551" y2="1252.2" stroke="#0b0907" stroke-width="3.9" stroke-linecap="round"/>
<line x1="596" y1="1242" x2="596" y2="1252.2" stroke="#0b0907" stroke-width="3.9" stroke-linecap="round"/>
<line x1="641" y1="1242" x2="641" y2="1252.2" stroke="#0b0907" stroke-width="3.9" stroke-linecap="round"/>
<line x1="686" y1="1242" x2="686" y2="1252.2" stroke="#0b0907" stroke-width="3.9" stroke-linecap="round"/>
<line x1="731" y1="1242" x2="731" y2="1252.2" stroke="#0b0907" stroke-width="3.9" stroke-linecap="round"/>
<line x1="776" y1="1242" x2="776" y2="1252.2" stroke="#0b0907" stroke-width="3.9" stroke-linecap="round"/>
<line x1="821" y1="1242" x2="821" y2="1252.2" stroke="#0b0907" stroke-width="3.9" stroke-linecap="round"/>
<line x1="866" y1="1242" x2="866" y2="1252.2" stroke="#0b0907" stroke-width="3.9" stroke-linecap="round"/>
<line x1="911" y1="1242" x2="911" y2="1252.2" stroke="#0b0907" stroke-width="3.9" stroke-linecap="round"/>
<line x1="956" y1="1242" x2="956" y2="1252.2" stroke="#0b0907" stroke-width="3.9" stroke-linecap="round"/>
<line x1="1001" y1="1242" x2="1001" y2="1252.2" stroke="#0b0907" stroke-width="3.9" stroke-linecap="round"/>
<line x1="1046" y1="1242" x2="1046" y2="1252.2" stroke="#0b0907" stroke-width="3.9" stroke-linecap="round"/>
<line x1="1091" y1="1242" x2="1091" y2="1252.2" stroke="#0b0907" stroke-width="3.9" stroke-linecap="round"/>
<line x1="1136" y1="1242" x2="1136" y2="1252.2" stroke="#0b0907" stroke-width="3.9" stroke-linecap="round"/>
<line x1="1181" y1="1242" x2="1181" y2="1252.2" stroke="#0b0907" stroke-width="3.9" stroke-linecap="round"/>
<line x1="1226" y1="1242" x2="1226" y2="1252.2" stroke="#0b0907" stroke-width="3.9" stroke-linecap="round"/>
<line x1="1271" y1="1242" x2="1271" y2="1252.2" stroke="#0b0907" stroke-width="3.9" stroke-linecap="round"/>
<line x1="1316" y1="1242" x2="1316" y2="1252.2" stroke="#0b0907" stroke-width="3.9" stroke-linecap="round"/>
<line x1="1361" y1="1242" x2="1361" y2="1252.2" stroke="#0b0907" stroke-width="3.9" stroke-linecap="round"/>
<line x1="1406" y1="1242" x2="1406" y2="1252.2" stroke="#0b0907" stroke-width="3.9" stroke-linecap="round"/>
<text transform="translate(137.6,1255.3) scale(0.95,1)" text-anchor="end" font-size="34">0</text>
<text transform="translate(137.6,1117.5) scale(0.95,1)" text-anchor="end" font-size="34">20</text>
<text transform="translate(137.6,979.7) scale(0.95,1)" text-anchor="end" font-size="34">40</text>
<text transform="translate(137.6,841.9) scale(0.95,1)" text-anchor="end" font-size="34">60</text>
<text transform="translate(137.6,704.1) scale(0.95,1)" text-anchor="end" font-size="34">80</text>
<text transform="translate(137.6,566.3) scale(0.95,1)" text-anchor="end" font-size="34">100</text>
<text transform="translate(192,1284.6) scale(0.91,1)" text-anchor="middle" font-size="34.5">1</text>
<text transform="translate(237,1284.6) scale(0.91,1)" text-anchor="middle" font-size="34.5">2</text>
<text transform="translate(282,1284.6) scale(0.91,1)" text-anchor="middle" font-size="34.5">3</text>
<text transform="translate(327,1284.6) scale(0.91,1)" text-anchor="middle" font-size="34.5">4</text>
<text transform="translate(372,1284.6) scale(0.91,1)" text-anchor="middle" font-size="34.5">5</text>
<text transform="translate(417,1284.6) scale(0.91,1)" text-anchor="middle" font-size="34.5">6</text>
<text transform="translate(462,1284.6) scale(0.91,1)" text-anchor="middle" font-size="34.5">7</text>
<text transform="translate(507,1284.6) scale(0.91,1)" text-anchor="middle" font-size="34.5">8</text>
<text transform="translate(552,1284.6) scale(0.91,1)" text-anchor="middle" font-size="34.5">9</text>
<text transform="translate(597,1284.6) scale(0.91,1)" text-anchor="middle" font-size="34.5">10</text>
<text transform="translate(642,1284.6) scale(0.91,1)" text-anchor="middle" font-size="34.5">11</text>
<text transform="translate(687,1284.6) scale(0.91,1)" text-anchor="middle" font-size="34.5">12</text>
<text transform="translate(732,1284.6) scale(0.91,1)" text-anchor="middle" font-size="34.5">13</text>
<text transform="translate(777,1284.6) scale(0.91,1)" text-anchor="middle" font-size="34.5">14</text>
<text transform="translate(822,1284.6) scale(0.91,1)" text-anchor="middle" font-size="34.5">15</text>
<text transform="translate(867,1284.6) scale(0.91,1)" text-anchor="middle" font-size="34.5">16</text>
<text transform="translate(912,1284.6) scale(0.91,1)" text-anchor="middle" font-size="34.5">17</text>
<text transform="translate(957,1284.6) scale(0.91,1)" text-anchor="middle" font-size="34.5">18</text>
<text transform="translate(1002,1284.6) scale(0.91,1)" text-anchor="middle" font-size="34.5">19</text>
<text transform="translate(1047,1284.6) scale(0.91,1)" text-anchor="middle" font-size="34.5">20</text>
<text transform="translate(1092,1284.6) scale(0.91,1)" text-anchor="middle" font-size="34.5">21</text>
<text transform="translate(1137,1284.6) scale(0.91,1)" text-anchor="middle" font-size="34.5">22</text>
<text transform="translate(1182,1284.6) scale(0.91,1)" text-anchor="middle" font-size="34.5">23</text>
<text transform="translate(1227,1284.6) scale(0.91,1)" text-anchor="middle" font-size="34.5">24</text>
<text transform="translate(1272,1284.6) scale(0.91,1)" text-anchor="middle" font-size="34.5">25</text>
<text transform="translate(1317,1284.6) scale(0.91,1)" text-anchor="middle" font-size="34.5">26</text>
<text transform="translate(1362,1284.6) scale(0.91,1)" text-anchor="middle" font-size="34.5">27</text>
<text transform="translate(1407,1284.6) scale(0.91,1)" text-anchor="middle" font-size="34.5">28</text>
<text transform="translate(821.5,1339.5) scale(1.145,1)" text-anchor="middle" font-size="38.5">Time (min)</text>
<text transform="translate(67.8,891.5) rotate(-90)" text-anchor="middle" font-size="44" xml:space="preserve">%  Freezing</text>
<line x1="210.8" y1="566.8" x2="242" y2="566.8" stroke="#0b0907" stroke-width="4.3" stroke-linecap="round"/>
<circle cx="226.4" cy="566.8" r="9.4" fill="#fff" stroke="#0b0907" stroke-width="4.2"/>
<line x1="218" y1="566.8" x2="235" y2="566.8" stroke="#0b0907" stroke-width="3.6"/>
<text transform="translate(262,583.3) scale(1.05,1)" font-size="44">Saline</text>
<line x1="446" y1="565.6" x2="476.4" y2="565.6" stroke="#0b0907" stroke-width="4.6" stroke-linecap="round"/>
<circle cx="461.4" cy="565.6" r="9.6" fill="#1c1916"/>
<text transform="translate(495.6,581.9) scale(1.02,1)" font-size="46.6">TCB-2</text>
<circle cx="157.2" cy="1229" r="9.4" fill="#fff" stroke="#0b0907" stroke-width="3.9"/>
<circle cx="168.5" cy="1232.5" r="9.4" fill="#fff" stroke="#0b0907" stroke-width="3.9"/>
<circle cx="179.8" cy="1223.5" r="9.4" fill="#fff" stroke="#0b0907" stroke-width="3.9"/>
<circle cx="191" cy="1193.9" r="9.4" fill="#fff" stroke="#0b0907" stroke-width="3.9"/>
<circle cx="202.2" cy="914.1" r="9.4" fill="#fff" stroke="#0b0907" stroke-width="3.9"/>
<circle cx="213.5" cy="977.5" r="9.4" fill="#fff" stroke="#0b0907" stroke-width="3.9"/>
<circle cx="224.8" cy="1079.5" r="9.4" fill="#fff" stroke="#0b0907" stroke-width="3.9"/>
<circle cx="236" cy="1124.3" r="9.4" fill="#fff" stroke="#0b0907" stroke-width="3.9"/>
<circle cx="247.2" cy="1098.1" r="9.4" fill="#fff" stroke="#0b0907" stroke-width="3.9"/>
<circle cx="258.5" cy="1146.3" r="9.4" fill="#fff" stroke="#0b0907" stroke-width="3.9"/>
<circle cx="269.8" cy="1184.2" r="9.4" fill="#fff" stroke="#0b0907" stroke-width="3.9"/>
<circle cx="281" cy="1138.8" r="9.4" fill="#fff" stroke="#0b0907" stroke-width="3.9"/>
<circle cx="292.2" cy="1118.8" r="9.4" fill="#fff" stroke="#0b0907" stroke-width="3.9"/>
<circle cx="303.5" cy="1131.9" r="9.4" fill="#fff" stroke="#0b0907" stroke-width="3.9"/>
<circle cx="314.8" cy="1136" r="9.4" fill="#fff" stroke="#0b0907" stroke-width="3.9"/>
<circle cx="326" cy="1115.3" r="9.4" fill="#fff" stroke="#0b0907" stroke-width="3.9"/>
<circle cx="337.2" cy="1142.9" r="9.4" fill="#fff" stroke="#0b0907" stroke-width="3.9"/>
<circle cx="348.5" cy="1092.6" r="9.4" fill="#fff" stroke="#0b0907" stroke-width="3.9"/>
<circle cx="359.8" cy="1107.8" r="9.4" fill="#fff" stroke="#0b0907" stroke-width="3.9"/>
<circle cx="371" cy="789.4" r="9.4" fill="#fff" stroke="#0b0907" stroke-width="3.9"/>
<circle cx="382.2" cy="642" r="9.4" fill="#fff" stroke="#0b0907" stroke-width="3.9"/>
<circle cx="393.5" cy="688.2" r="9.4" fill="#fff" stroke="#0b0907" stroke-width="3.9"/>
<circle cx="404.8" cy="782.5" r="9.4" fill="#fff" stroke="#0b0907" stroke-width="3.9"/>
<circle cx="416" cy="912.8" r="9.4" fill="#fff" stroke="#0b0907" stroke-width="3.9"/>
<circle cx="427.2" cy="894.9" r="9.4" fill="#fff" stroke="#0b0907" stroke-width="3.9"/>
<circle cx="438.5" cy="965.8" r="9.4" fill="#fff" stroke="#0b0907" stroke-width="3.9"/>
<circle cx="449.8" cy="958.9" r="9.4" fill="#fff" stroke="#0b0907" stroke-width="3.9"/>
<circle cx="461" cy="1000.3" r="9.4" fill="#fff" stroke="#0b0907" stroke-width="3.9"/>
<circle cx="472.2" cy="973.4" r="9.4" fill="#fff" stroke="#0b0907" stroke-width="3.9"/>
<circle cx="483.5" cy="956.9" r="9.4" fill="#fff" stroke="#0b0907" stroke-width="3.9"/>
<circle cx="494.8" cy="1030.6" r="9.4" fill="#fff" stroke="#0b0907" stroke-width="3.9"/>
<circle cx="506" cy="1092.6" r="9.4" fill="#fff" stroke="#0b0907" stroke-width="3.9"/>
<circle cx="517.2" cy="1058.8" r="9.4" fill="#fff" stroke="#0b0907" stroke-width="3.9"/>
<circle cx="528.5" cy="1006.5" r="9.4" fill="#fff" stroke="#0b0907" stroke-width="3.9"/>
<circle cx="539.8" cy="875.6" r="9.4" fill="#fff" stroke="#0b0907" stroke-width="3.9"/>
<circle cx="551" cy="743.3" r="9.4" fill="#fff" stroke="#0b0907" stroke-width="3.9"/>
<circle cx="562.2" cy="772.9" r="9.4" fill="#fff" stroke="#0b0907" stroke-width="3.9"/>
<circle cx="573.5" cy="872.1" r="9.4" fill="#fff" stroke="#0b0907" stroke-width="3.9"/>
<circle cx="584.8" cy="1043.7" r="9.4" fill="#fff" stroke="#0b0907" stroke-width="3.9"/>
<circle cx="596" cy="1098.1" r="9.4" fill="#fff" stroke="#0b0907" stroke-width="3.9"/>
<circle cx="607.2" cy="1118.8" r="9.4" fill="#fff" stroke="#0b0907" stroke-width="3.9"/>
<circle cx="618.5" cy="974.8" r="9.4" fill="#fff" stroke="#0b0907" stroke-width="3.9"/>
<circle cx="629.8" cy="1091.2" r="9.4" fill="#fff" stroke="#0b0907" stroke-width="3.9"/>
<circle cx="641" cy="1059.5" r="9.4" fill="#fff" stroke="#0b0907" stroke-width="3.9"/>
<circle cx="652.2" cy="1098.1" r="9.4" fill="#fff" stroke="#0b0907" stroke-width="3.9"/>
<circle cx="663.5" cy="1008.5" r="9.4" fill="#fff" stroke="#0b0907" stroke-width="3.9"/>
<circle cx="674.8" cy="1036.8" r="9.4" fill="#fff" stroke="#0b0907" stroke-width="3.9"/>
<circle cx="686" cy="1092.6" r="9.4" fill="#fff" stroke="#0b0907" stroke-width="3.9"/>
<circle cx="697.2" cy="1064.3" r="9.4" fill="#fff" stroke="#0b0907" stroke-width="3.9"/>
<circle cx="708.5" cy="823.9" r="9.4" fill="#fff" stroke="#0b0907" stroke-width="3.9"/>
<circle cx="719.8" cy="705.4" r="9.4" fill="#fff" stroke="#0b0907" stroke-width="3.9"/>
<circle cx="731" cy="786.7" r="9.4" fill="#fff" stroke="#0b0907" stroke-width="3.9"/>
<circle cx="742.2" cy="865.2" r="9.4" fill="#fff" stroke="#0b0907" stroke-width="3.9"/>
<circle cx="753.5" cy="921.7" r="9.4" fill="#fff" stroke="#0b0907" stroke-width="3.9"/>
<circle cx="764.8" cy="1021.6" r="9.4" fill="#fff" stroke="#0b0907" stroke-width="3.9"/>
<circle cx="776" cy="992.7" r="9.4" fill="#fff" stroke="#0b0907" stroke-width="3.9"/>
<circle cx="787.2" cy="994.1" r="9.4" fill="#fff" stroke="#0b0907" stroke-width="3.9"/>
<circle cx="798.5" cy="1085.7" r="9.4" fill="#fff" stroke="#0b0907" stroke-width="3.9"/>
<circle cx="809.8" cy="1145" r="9.4" fill="#fff" stroke="#0b0907" stroke-width="3.9"/>
<circle cx="821" cy="1136" r="9.4" fill="#fff" stroke="#0b0907" stroke-width="3.9"/>
<circle cx="832.2" cy="1085" r="9.4" fill="#fff" stroke="#0b0907" stroke-width="3.9"/>
<circle cx="843.5" cy="1095.4" r="9.4" fill="#fff" stroke="#0b0907" stroke-width="3.9"/>
<circle cx="854.8" cy="1165.6" r="9.4" fill="#fff" stroke="#0b0907" stroke-width="3.9"/>
<circle cx="866" cy="1118.1" r="9.4" fill="#fff" stroke="#0b0907" stroke-width="3.9"/>
<circle cx="877.2" cy="837.7" r="9.4" fill="#fff" stroke="#0b0907" stroke-width="3.9"/>
<circle cx="888.5" cy="706.8" r="9.4" fill="#fff" stroke="#0b0907" stroke-width="3.9"/>
<circle cx="899.8" cy="760.5" r="9.4" fill="#fff" stroke="#0b0907" stroke-width="3.9"/>
<circle cx="911" cy="887.3" r="9.4" fill="#fff" stroke="#0b0907" stroke-width="3.9"/>
<circle cx="922.2" cy="986.5" r="9.4" fill="#fff" stroke="#0b0907" stroke-width="3.9"/>
<circle cx="933.5" cy="1043.7" r="9.4" fill="#fff" stroke="#0b0907" stroke-width="3.9"/>
<circle cx="944.8" cy="1069.2" r="9.4" fill="#fff" stroke="#0b0907" stroke-width="3.9"/>
<circle cx="956" cy="1083" r="9.4" fill="#fff" stroke="#0b0907" stroke-width="3.9"/>
<circle cx="967.2" cy="1094" r="9.4" fill="#fff" stroke="#0b0907" stroke-width="3.9"/>
<circle cx="978.5" cy="1094" r="9.4" fill="#fff" stroke="#0b0907" stroke-width="3.9"/>
<circle cx="989.8" cy="1191.1" r="9.4" fill="#fff" stroke="#0b0907" stroke-width="3.9"/>
<circle cx="1001" cy="1131.9" r="9.4" fill="#fff" stroke="#0b0907" stroke-width="3.9"/>
<circle cx="1012.2" cy="1165.6" r="9.4" fill="#fff" stroke="#0b0907" stroke-width="3.9"/>
<circle cx="1023.5" cy="1122.2" r="9.4" fill="#fff" stroke="#0b0907" stroke-width="3.9"/>
<circle cx="1034.8" cy="1160.8" r="9.4" fill="#fff" stroke="#0b0907" stroke-width="3.9"/>
<circle cx="1046" cy="904.5" r="9.4" fill="#fff" stroke="#0b0907" stroke-width="3.9"/>
<circle cx="1057.2" cy="849.4" r="9.4" fill="#fff" stroke="#0b0907" stroke-width="3.9"/>
<circle cx="1068.5" cy="975.5" r="9.4" fill="#fff" stroke="#0b0907" stroke-width="3.9"/>
<circle cx="1079.8" cy="916.9" r="9.4" fill="#fff" stroke="#0b0907" stroke-width="3.9"/>
<circle cx="1091" cy="1045.1" r="9.4" fill="#fff" stroke="#0b0907" stroke-width="3.9"/>
<circle cx="1102.2" cy="992.7" r="9.4" fill="#fff" stroke="#0b0907" stroke-width="3.9"/>
<circle cx="1113.5" cy="1009.2" r="9.4" fill="#fff" stroke="#0b0907" stroke-width="3.9"/>
<circle cx="1124.8" cy="1064.3" r="9.4" fill="#fff" stroke="#0b0907" stroke-width="3.9"/>
<circle cx="1136" cy="1054" r="9.4" fill="#fff" stroke="#0b0907" stroke-width="3.9"/>
<circle cx="1147.2" cy="1098.8" r="9.4" fill="#fff" stroke="#0b0907" stroke-width="3.9"/>
<circle cx="1158.5" cy="1039.5" r="9.4" fill="#fff" stroke="#0b0907" stroke-width="3.9"/>
<circle cx="1169.8" cy="1076.8" r="9.4" fill="#fff" stroke="#0b0907" stroke-width="3.9"/>
<circle cx="1181" cy="1141.5" r="9.4" fill="#fff" stroke="#0b0907" stroke-width="3.9"/>
<circle cx="1192.2" cy="1069.2" r="9.4" fill="#fff" stroke="#0b0907" stroke-width="3.9"/>
<circle cx="1203.5" cy="1094" r="9.4" fill="#fff" stroke="#0b0907" stroke-width="3.9"/>
<circle cx="1214.8" cy="795" r="9.4" fill="#fff" stroke="#0b0907" stroke-width="3.9"/>
<circle cx="1226" cy="716.4" r="9.4" fill="#fff" stroke="#0b0907" stroke-width="3.9"/>
<circle cx="1237.2" cy="779.8" r="9.4" fill="#fff" stroke="#0b0907" stroke-width="3.9"/>
<circle cx="1248.5" cy="900.4" r="9.4" fill="#fff" stroke="#0b0907" stroke-width="3.9"/>
<circle cx="1259.8" cy="992" r="9.4" fill="#fff" stroke="#0b0907" stroke-width="3.9"/>
<circle cx="1271" cy="1077.4" r="9.4" fill="#fff" stroke="#0b0907" stroke-width="3.9"/>
<circle cx="1282.2" cy="1120.8" r="9.4" fill="#fff" stroke="#0b0907" stroke-width="3.9"/>
<circle cx="1293.5" cy="1088.5" r="9.4" fill="#fff" stroke="#0b0907" stroke-width="3.9"/>
<circle cx="1304.8" cy="1122.2" r="9.4" fill="#fff" stroke="#0b0907" stroke-width="3.9"/>
<circle cx="1316" cy="1055.4" r="9.4" fill="#fff" stroke="#0b0907" stroke-width="3.9"/>
<circle cx="1327.2" cy="1061.6" r="9.4" fill="#fff" stroke="#0b0907" stroke-width="3.9"/>
<circle cx="1338.5" cy="1109.1" r="9.4" fill="#fff" stroke="#0b0907" stroke-width="3.9"/>
<circle cx="1349.8" cy="1190.4" r="9.4" fill="#fff" stroke="#0b0907" stroke-width="3.9"/>
<circle cx="1361" cy="1139.5" r="9.4" fill="#fff" stroke="#0b0907" stroke-width="3.9"/>
<circle cx="1372.2" cy="1173.2" r="9.4" fill="#fff" stroke="#0b0907" stroke-width="3.9"/>
<circle cx="1383.5" cy="821.8" r="9.4" fill="#fff" stroke="#0b0907" stroke-width="3.9"/>
<circle cx="1394.8" cy="829.4" r="9.4" fill="#fff" stroke="#0b0907" stroke-width="3.9"/>
<circle cx="1406" cy="825.3" r="9.4" fill="#fff" stroke="#0b0907" stroke-width="3.9"/>
<circle cx="1417.2" cy="997.5" r="9.4" fill="#fff" stroke="#0b0907" stroke-width="3.9"/>
<circle cx="1428.5" cy="980.3" r="9.4" fill="#fff" stroke="#0b0907" stroke-width="3.9"/>
<path d="M191,1193.9 L191,1180.8 M184.3,1180.8 L197.7,1180.8" stroke="#0b0907" stroke-width="4.2" fill="none"/>
<path d="M202.2,914.1 L202.2,863.8 M195.6,863.8 L208.9,863.8" stroke="#0b0907" stroke-width="4.2" fill="none"/>
<path d="M213.5,977.5 L213.5,935.5 M206.8,935.5 L220.2,935.5" stroke="#0b0907" stroke-width="4.2" fill="none"/>
<path d="M224.8,1079.5 L224.8,1033.3 M218.1,1033.3 L231.4,1033.3" stroke="#0b0907" stroke-width="4.2" fill="none"/>
<path d="M236,1124.3 L236,1083 M229.3,1083 L242.7,1083" stroke="#0b0907" stroke-width="4.2" fill="none"/>
<path d="M247.2,1098.1 L247.2,1049.2 M240.6,1049.2 L253.9,1049.2" stroke="#0b0907" stroke-width="4.2" fill="none"/>
<path d="M258.5,1146.3 L258.5,1124.3 M251.8,1124.3 L265.2,1124.3" stroke="#0b0907" stroke-width="4.2" fill="none"/>
<path d="M269.8,1184.2 L269.8,1173.9 M263.1,1173.9 L276.4,1173.9" stroke="#0b0907" stroke-width="4.2" fill="none"/>
<path d="M281,1138.8 L281,1103.6 M274.3,1103.6 L287.7,1103.6" stroke="#0b0907" stroke-width="4.2" fill="none"/>
<path d="M292.2,1118.8 L292.2,1082.3 M285.6,1082.3 L298.9,1082.3" stroke="#0b0907" stroke-width="4.2" fill="none"/>
<path d="M303.5,1131.9 L303.5,1092.6 M296.8,1092.6 L310.2,1092.6" stroke="#0b0907" stroke-width="4.2" fill="none"/>
<path d="M314.8,1136 L314.8,1098.1 M308.1,1098.1 L321.4,1098.1" stroke="#0b0907" stroke-width="4.2" fill="none"/>
<path d="M326,1115.3 L326,1067.1 M319.3,1067.1 L332.7,1067.1" stroke="#0b0907" stroke-width="4.2" fill="none"/>
<path d="M337.2,1142.9 L337.2,1120.8 M330.6,1120.8 L343.9,1120.8" stroke="#0b0907" stroke-width="4.2" fill="none"/>
<path d="M348.5,1092.6 L348.5,1047.1 M341.8,1047.1 L355.2,1047.1" stroke="#0b0907" stroke-width="4.2" fill="none"/>
<path d="M359.8,1107.8 L359.8,1071.9 M353.1,1071.9 L366.4,1071.9" stroke="#0b0907" stroke-width="4.2" fill="none"/>
<path d="M371,789.4 L371,734.3 M364.3,734.3 L377.7,734.3" stroke="#0b0907" stroke-width="4.2" fill="none"/>
<path d="M382.2,642 L382.2,611 M375.6,611 L388.9,611" stroke="#0b0907" stroke-width="4.2" fill="none"/>
<path d="M393.5,688.2 L393.5,637.9 M386.8,637.9 L400.2,637.9" stroke="#0b0907" stroke-width="4.2" fill="none"/>
<path d="M404.8,782.5 L404.8,715 M398.1,715 L411.4,715" stroke="#0b0907" stroke-width="4.2" fill="none"/>
<path d="M416,912.8 L416,837 M409.3,837 L422.7,837" stroke="#0b0907" stroke-width="4.2" fill="none"/>
<path d="M427.2,894.9 L427.2,820.4 M420.6,820.4 L433.9,820.4" stroke="#0b0907" stroke-width="4.2" fill="none"/>
<path d="M449.8,958.9 L449.8,894.9 M443.1,894.9 L456.4,894.9" stroke="#0b0907" stroke-width="4.2" fill="none"/>
<path d="M461,1000.3 L461,930 M454.3,930 L467.7,930" stroke="#0b0907" stroke-width="4.2" fill="none"/>
<path d="M472.2,973.4 L472.2,902.4 M465.6,902.4 L478.9,902.4" stroke="#0b0907" stroke-width="4.2" fill="none"/>
<path d="M483.5,956.9 L483.5,872.1 M476.8,872.1 L490.2,872.1" stroke="#0b0907" stroke-width="4.2" fill="none"/>
<path d="M494.8,1030.6 L494.8,964.4 M488.1,964.4 L501.4,964.4" stroke="#0b0907" stroke-width="4.2" fill="none"/>
<path d="M506,1092.6 L506,1030.6 M499.3,1030.6 L512.7,1030.6" stroke="#0b0907" stroke-width="4.2" fill="none"/>
<path d="M517.2,1058.8 L517.2,983.7 M510.6,983.7 L524,983.7" stroke="#0b0907" stroke-width="4.2" fill="none"/>
<path d="M528.5,1006.5 L528.5,954.1 M521.8,954.1 L535.2,954.1" stroke="#0b0907" stroke-width="4.2" fill="none"/>
<path d="M539.8,875.6 L539.8,826.6 M533,826.6 L546.5,826.6" stroke="#0b0907" stroke-width="4.2" fill="none"/>
<path d="M551,743.3 L551,686.8 M544.3,686.8 L557.7,686.8" stroke="#0b0907" stroke-width="4.2" fill="none"/>
<path d="M562.2,772.9 L562.2,713.6 M555.5,713.6 L569,713.6" stroke="#0b0907" stroke-width="4.2" fill="none"/>
<path d="M573.5,872.1 L573.5,805.3 M566.8,805.3 L580.2,805.3" stroke="#0b0907" stroke-width="4.2" fill="none"/>
<path d="M584.8,1043.7 L584.8,998.9 M578,998.9 L591.5,998.9" stroke="#0b0907" stroke-width="4.2" fill="none"/>
<path d="M596,1098.1 L596,1071.9 M589.3,1071.9 L602.7,1071.9" stroke="#0b0907" stroke-width="4.2" fill="none"/>
<path d="M607.2,1118.8 L607.2,1085 M600.5,1085 L614,1085" stroke="#0b0907" stroke-width="4.2" fill="none"/>
<path d="M618.5,974.8 L618.5,891.4 M611.8,891.4 L625.2,891.4" stroke="#0b0907" stroke-width="4.2" fill="none"/>
<path d="M629.8,1091.2 L629.8,1029.2 M623,1029.2 L636.5,1029.2" stroke="#0b0907" stroke-width="4.2" fill="none"/>
<path d="M641,1059.5 L641,1002.3 M634.3,1002.3 L647.7,1002.3" stroke="#0b0907" stroke-width="4.2" fill="none"/>
<path d="M652.2,1098.1 L652.2,1070.5 M645.5,1070.5 L659,1070.5" stroke="#0b0907" stroke-width="4.2" fill="none"/>
<path d="M663.5,1008.5 L663.5,948.6 M656.8,948.6 L670.2,948.6" stroke="#0b0907" stroke-width="4.2" fill="none"/>
<path d="M674.8,1036.8 L674.8,988.6 M668,988.6 L681.5,988.6" stroke="#0b0907" stroke-width="4.2" fill="none"/>
<path d="M686,1092.6 L686,1055.4 M679.3,1055.4 L692.7,1055.4" stroke="#0b0907" stroke-width="4.2" fill="none"/>
<path d="M697.2,1064.3 L697.2,1008.5 M690.5,1008.5 L704,1008.5" stroke="#0b0907" stroke-width="4.2" fill="none"/>
<path d="M708.5,823.9 L708.5,765.3 M701.8,765.3 L715.2,765.3" stroke="#0b0907" stroke-width="4.2" fill="none"/>
<path d="M719.8,705.4 L719.8,647.5 M713,647.5 L726.5,647.5" stroke="#0b0907" stroke-width="4.2" fill="none"/>
<path d="M731,786.7 L731,732.9 M724.3,732.9 L737.7,732.9" stroke="#0b0907" stroke-width="4.2" fill="none"/>
<path d="M742.2,865.2 L742.2,795 M735.5,795 L749,795" stroke="#0b0907" stroke-width="4.2" fill="none"/>
<path d="M753.5,921.7 L753.5,837 M746.8,837 L760.2,837" stroke="#0b0907" stroke-width="4.2" fill="none"/>
<path d="M764.8,1021.6 L764.8,941 M758,941 L771.5,941" stroke="#0b0907" stroke-width="4.2" fill="none"/>
<path d="M776,992.7 L776,914.1 M769.3,914.1 L782.7,914.1" stroke="#0b0907" stroke-width="4.2" fill="none"/>
<path d="M787.2,994.1 L787.2,907.9 M780.5,907.9 L794,907.9" stroke="#0b0907" stroke-width="4.2" fill="none"/>
<path d="M798.5,1085.7 L798.5,1018.9 M791.8,1018.9 L805.2,1018.9" stroke="#0b0907" stroke-width="4.2" fill="none"/>
<path d="M809.8,1145 L809.8,1083 M803,1083 L816.5,1083" stroke="#0b0907" stroke-width="4.2" fill="none"/>
<path d="M821,1136 L821,1071.9 M814.3,1071.9 L827.7,1071.9" stroke="#0b0907" stroke-width="4.2" fill="none"/>
<path d="M832.2,1085 L832.2,1023.7 M825.5,1023.7 L839,1023.7" stroke="#0b0907" stroke-width="4.2" fill="none"/>
<path d="M843.5,1095.4 L843.5,1036.1 M836.8,1036.1 L850.2,1036.1" stroke="#0b0907" stroke-width="4.2" fill="none"/>
<path d="M854.8,1165.6 L854.8,1122.2 M848,1122.2 L861.5,1122.2" stroke="#0b0907" stroke-width="4.2" fill="none"/>
<path d="M866,1118.1 L866,1058.8 M859.3,1058.8 L872.7,1058.8" stroke="#0b0907" stroke-width="4.2" fill="none"/>
<path d="M877.2,837.7 L877.2,774.3 M870.5,774.3 L884,774.3" stroke="#0b0907" stroke-width="4.2" fill="none"/>
<path d="M888.5,706.8 L888.5,654.4 M881.8,654.4 L895.2,654.4" stroke="#0b0907" stroke-width="4.2" fill="none"/>
<path d="M899.8,760.5 L899.8,689.5 M893,689.5 L906.5,689.5" stroke="#0b0907" stroke-width="4.2" fill="none"/>
<path d="M911,887.3 L911,799.8 M904.3,799.8 L917.7,799.8" stroke="#0b0907" stroke-width="4.2" fill="none"/>
<path d="M922.2,986.5 L922.2,905.2 M915.5,905.2 L929,905.2" stroke="#0b0907" stroke-width="4.2" fill="none"/>
<path d="M933.5,1043.7 L933.5,972 M926.8,972 L940.2,972" stroke="#0b0907" stroke-width="4.2" fill="none"/>
<path d="M944.8,1069.2 L944.8,993.4 M938,993.4 L951.5,993.4" stroke="#0b0907" stroke-width="4.2" fill="none"/>
<path d="M956,1083 L956,1023.7 M949.3,1023.7 L962.7,1023.7" stroke="#0b0907" stroke-width="4.2" fill="none"/>
<path d="M967.2,1094 L967.2,1033.3 M960.5,1033.3 L974,1033.3" stroke="#0b0907" stroke-width="4.2" fill="none"/>
<path d="M978.5,1094 L978.5,1045.1 M971.8,1045.1 L985.2,1045.1" stroke="#0b0907" stroke-width="4.2" fill="none"/>
<path d="M989.8,1191.1 L989.8,1176 M983,1176 L996.5,1176" stroke="#0b0907" stroke-width="4.2" fill="none"/>
<path d="M1001,1131.9 L1001,1093.3 M994.3,1093.3 L1007.7,1093.3" stroke="#0b0907" stroke-width="4.2" fill="none"/>
<path d="M1023.5,1122.2 L1023.5,1075.4 M1016.8,1075.4 L1030.2,1075.4" stroke="#0b0907" stroke-width="4.2" fill="none"/>
<path d="M1046,904.5 L1046,852.8 M1039.3,852.8 L1052.7,852.8" stroke="#0b0907" stroke-width="4.2" fill="none"/>
<path d="M1057.2,849.4 L1057.2,781.2 M1050.5,781.2 L1064,781.2" stroke="#0b0907" stroke-width="4.2" fill="none"/>
<path d="M1068.5,975.5 L1068.5,903.1 M1061.8,903.1 L1075.2,903.1" stroke="#0b0907" stroke-width="4.2" fill="none"/>
<path d="M1079.8,916.9 L1079.8,854.9 M1073,854.9 L1086.5,854.9" stroke="#0b0907" stroke-width="4.2" fill="none"/>
<path d="M1091,1045.1 L1091,986.5 M1084.3,986.5 L1097.7,986.5" stroke="#0b0907" stroke-width="4.2" fill="none"/>
<path d="M1102.2,992.7 L1102.2,912.8 M1095.5,912.8 L1109,912.8" stroke="#0b0907" stroke-width="4.2" fill="none"/>
<path d="M1113.5,1009.2 L1113.5,926.5 M1106.8,926.5 L1120.2,926.5" stroke="#0b0907" stroke-width="4.2" fill="none"/>
<path d="M1124.8,1064.3 L1124.8,1001.6 M1118,1001.6 L1131.5,1001.6" stroke="#0b0907" stroke-width="4.2" fill="none"/>
<path d="M1136,1054 L1136,986.5 M1129.3,986.5 L1142.7,986.5" stroke="#0b0907" stroke-width="4.2" fill="none"/>
<path d="M1147.2,1098.8 L1147.2,1036.1 M1140.5,1036.1 L1154,1036.1" stroke="#0b0907" stroke-width="4.2" fill="none"/>
<path d="M1158.5,1039.5 L1158.5,964.4 M1151.8,964.4 L1165.2,964.4" stroke="#0b0907" stroke-width="4.2" fill="none"/>
<path d="M1169.8,1076.8 L1169.8,1028.5 M1163,1028.5 L1176.5,1028.5" stroke="#0b0907" stroke-width="4.2" fill="none"/>
<path d="M1181,1141.5 L1181,1102.9 M1174.3,1102.9 L1187.7,1102.9" stroke="#0b0907" stroke-width="4.2" fill="none"/>
<path d="M1192.2,1069.2 L1192.2,1008.5 M1185.5,1008.5 L1199,1008.5" stroke="#0b0907" stroke-width="4.2" fill="none"/>
<path d="M1214.8,795 L1214.8,734.3 M1208,734.3 L1221.5,734.3" stroke="#0b0907" stroke-width="4.2" fill="none"/>
<path d="M1226,716.4 L1226,644.7 M1219.3,644.7 L1232.7,644.7" stroke="#0b0907" stroke-width="4.2" fill="none"/>
<path d="M1237.2,779.8 L1237.2,705.4 M1230.5,705.4 L1244,705.4" stroke="#0b0907" stroke-width="4.2" fill="none"/>
<path d="M1248.5,900.4 L1248.5,828 M1241.8,828 L1255.2,828" stroke="#0b0907" stroke-width="4.2" fill="none"/>
<path d="M1259.8,992 L1259.8,925.2 M1253,925.2 L1266.5,925.2" stroke="#0b0907" stroke-width="4.2" fill="none"/>
<path d="M1271,1077.4 L1271,1007.9 M1264.3,1007.9 L1277.7,1007.9" stroke="#0b0907" stroke-width="4.2" fill="none"/>
<path d="M1282.2,1120.8 L1282.2,1069.9 M1275.5,1069.9 L1289,1069.9" stroke="#0b0907" stroke-width="4.2" fill="none"/>
<path d="M1293.5,1088.5 L1293.5,1045.1 M1286.8,1045.1 L1300.2,1045.1" stroke="#0b0907" stroke-width="4.2" fill="none"/>
<path d="M1304.8,1122.2 L1304.8,1094.7 M1298,1094.7 L1311.5,1094.7" stroke="#0b0907" stroke-width="4.2" fill="none"/>
<path d="M1316,1055.4 L1316,1004.4 M1309.3,1004.4 L1322.7,1004.4" stroke="#0b0907" stroke-width="4.2" fill="none"/>
<path d="M1327.2,1061.6 L1327.2,1018.2 M1320.5,1018.2 L1334,1018.2" stroke="#0b0907" stroke-width="4.2" fill="none"/>
<path d="M1338.5,1109.1 L1338.5,1047.8 M1331.8,1047.8 L1345.2,1047.8" stroke="#0b0907" stroke-width="4.2" fill="none"/>
<path d="M1349.8,1190.4 L1349.8,1180.8 M1343,1180.8 L1356.5,1180.8" stroke="#0b0907" stroke-width="4.2" fill="none"/>
<path d="M1361,1139.5 L1361,1098.1 M1354.3,1098.1 L1367.7,1098.1" stroke="#0b0907" stroke-width="4.2" fill="none"/>
<path d="M1372.2,1173.2 L1372.2,1160.1 M1365.5,1160.1 L1379,1160.1" stroke="#0b0907" stroke-width="4.2" fill="none"/>
<path d="M1383.5,821.8 L1383.5,774.3 M1376.8,774.3 L1390.2,774.3" stroke="#0b0907" stroke-width="4.2" fill="none"/>
<path d="M1394.8,829.4 L1394.8,756.4 M1388,756.4 L1401.5,756.4" stroke="#0b0907" stroke-width="4.2" fill="none"/>
<path d="M1406,825.3 L1406,747.4 M1399.3,747.4 L1412.7,747.4" stroke="#0b0907" stroke-width="4.2" fill="none"/>
<path d="M1417.2,997.5 L1417.2,907.9 M1410.5,907.9 L1424,907.9" stroke="#0b0907" stroke-width="4.2" fill="none"/>
<path d="M1428.5,980.3 L1428.5,907.9 M1421.8,907.9 L1435.2,907.9" stroke="#0b0907" stroke-width="4.2" fill="none"/>
<polyline points="157.2,1229 168.5,1232.5 179.8,1223.5 191,1193.9 202.2,914.1 213.5,977.5 224.8,1079.5 236,1124.3 247.2,1098.1 258.5,1146.3 269.8,1184.2 281,1138.8 292.2,1118.8 303.5,1131.9 314.8,1136 326,1115.3 337.2,1142.9 348.5,1092.6 359.8,1107.8 371,789.4 382.2,642 393.5,688.2 404.8,782.5 416,912.8 427.2,894.9 438.5,965.8 449.8,958.9 461,1000.3 472.2,973.4 483.5,956.9 494.8,1030.6 506,1092.6 517.2,1058.8 528.5,1006.5 539.8,875.6 551,743.3 562.2,772.9 573.5,872.1 584.8,1043.7 596,1098.1 607.2,1118.8 618.5,974.8 629.8,1091.2 641,1059.5 652.2,1098.1 663.5,1008.5 674.8,1036.8 686,1092.6 697.2,1064.3 708.5,823.9 719.8,705.4 731,786.7 742.2,865.2 753.5,921.7 764.8,1021.6 776,992.7 787.2,994.1 798.5,1085.7 809.8,1145 821,1136 832.2,1085 843.5,1095.4 854.8,1165.6 866,1118.1 877.2,837.7 888.5,706.8 899.8,760.5 911,887.3 922.2,986.5 933.5,1043.7 944.8,1069.2 956,1083 967.2,1094 978.5,1094 989.8,1191.1 1001,1131.9 1012.2,1165.6 1023.5,1122.2 1034.8,1160.8 1046,904.5 1057.2,849.4 1068.5,975.5 1079.8,916.9 1091,1045.1 1102.2,992.7 1113.5,1009.2 1124.8,1064.3 1136,1054 1147.2,1098.8 1158.5,1039.5 1169.8,1076.8 1181,1141.5 1192.2,1069.2 1203.5,1094 1214.8,795 1226,716.4 1237.2,779.8 1248.5,900.4 1259.8,992 1271,1077.4 1282.2,1120.8 1293.5,1088.5 1304.8,1122.2 1316,1055.4 1327.2,1061.6 1338.5,1109.1 1349.8,1190.4 1361,1139.5 1372.2,1173.2 1383.5,821.8 1394.8,829.4 1406,825.3 1417.2,997.5 1428.5,980.3" fill="none" stroke="#0b0907" stroke-width="4.4" stroke-linejoin="round"/>
<path d="M191,1220.8 L191,1231.1 M184.3,1231.1 L197.7,1231.1" stroke="#0b0907" stroke-width="4.2" fill="none"/>
<path d="M202.2,1016.8 L202.2,1069.9 M195.6,1069.9 L208.9,1069.9" stroke="#0b0907" stroke-width="4.2" fill="none"/>
<path d="M213.5,1016.1 L213.5,1066.4 M206.8,1066.4 L220.2,1066.4" stroke="#0b0907" stroke-width="4.2" fill="none"/>
<path d="M224.8,1142.9 L224.8,1177.3 M218.1,1177.3 L231.4,1177.3" stroke="#0b0907" stroke-width="4.2" fill="none"/>
<path d="M236,1192.5 L236,1209 M229.3,1209 L242.7,1209" stroke="#0b0907" stroke-width="4.2" fill="none"/>
<path d="M247.2,1182.2 L247.2,1204.2 M240.6,1204.2 L253.9,1204.2" stroke="#0b0907" stroke-width="4.2" fill="none"/>
<path d="M258.5,1188.4 L258.5,1203.5 M251.8,1203.5 L265.2,1203.5" stroke="#0b0907" stroke-width="4.2" fill="none"/>
<path d="M269.8,1207 L269.8,1229 M263.1,1229 L276.4,1229" stroke="#0b0907" stroke-width="4.2" fill="none"/>
<path d="M281,1175.3 L281,1194.6 M274.3,1194.6 L287.7,1194.6" stroke="#0b0907" stroke-width="4.2" fill="none"/>
<path d="M292.2,1200.8 L292.2,1213.9 M285.6,1213.9 L298.9,1213.9" stroke="#0b0907" stroke-width="4.2" fill="none"/>
<path d="M303.5,1150.5 L303.5,1191.1 M296.8,1191.1 L310.2,1191.1" stroke="#0b0907" stroke-width="4.2" fill="none"/>
<path d="M314.8,1167 L314.8,1202.8 M308.1,1202.8 L321.4,1202.8" stroke="#0b0907" stroke-width="4.2" fill="none"/>
<path d="M326,1192.5 L326,1219.4 M319.3,1219.4 L332.7,1219.4" stroke="#0b0907" stroke-width="4.2" fill="none"/>
<path d="M337.2,1203.5 L337.2,1213.9 M330.6,1213.9 L343.9,1213.9" stroke="#0b0907" stroke-width="4.2" fill="none"/>
<path d="M348.5,1150.5 L348.5,1192.5 M341.8,1192.5 L355.2,1192.5" stroke="#0b0907" stroke-width="4.2" fill="none"/>
<path d="M359.8,1159.4 L359.8,1176 M353.1,1176 L366.4,1176" stroke="#0b0907" stroke-width="4.2" fill="none"/>
<path d="M371,983.7 L371,1025.8 M364.3,1025.8 L377.7,1025.8" stroke="#0b0907" stroke-width="4.2" fill="none"/>
<path d="M382.2,989.9 L382.2,1054 M375.6,1054 L388.9,1054" stroke="#0b0907" stroke-width="4.2" fill="none"/>
<path d="M393.5,1131.2 L393.5,1159.4 M386.8,1159.4 L400.2,1159.4" stroke="#0b0907" stroke-width="4.2" fill="none"/>
<path d="M404.8,1187.7 L404.8,1204.2 M398.1,1204.2 L411.4,1204.2" stroke="#0b0907" stroke-width="4.2" fill="none"/>
<path d="M416,1195.9 L416,1213.2 M409.3,1213.2 L422.7,1213.2" stroke="#0b0907" stroke-width="4.2" fill="none"/>
<path d="M427.2,1199.4 L427.2,1221.4 M420.6,1221.4 L433.9,1221.4" stroke="#0b0907" stroke-width="4.2" fill="none"/>
<path d="M438.5,1203.5 L438.5,1221.4 M431.8,1221.4 L445.2,1221.4" stroke="#0b0907" stroke-width="4.2" fill="none"/>
<path d="M449.8,1182.9 L449.8,1207 M443.1,1207 L456.4,1207" stroke="#0b0907" stroke-width="4.2" fill="none"/>
<path d="M461,1192.5 L461,1213.9 M454.3,1213.9 L467.7,1213.9" stroke="#0b0907" stroke-width="4.2" fill="none"/>
<path d="M472.2,1167.7 L472.2,1195.3 M465.6,1195.3 L478.9,1195.3" stroke="#0b0907" stroke-width="4.2" fill="none"/>
<path d="M483.5,1164.3 L483.5,1186.3 M476.8,1186.3 L490.2,1186.3" stroke="#0b0907" stroke-width="4.2" fill="none"/>
<path d="M494.8,1204.2 L494.8,1214.6 M488.1,1214.6 L501.4,1214.6" stroke="#0b0907" stroke-width="4.2" fill="none"/>
<path d="M506,1188.4 L506,1207 M499.3,1207 L512.7,1207" stroke="#0b0907" stroke-width="4.2" fill="none"/>
<path d="M517.2,1164.3 L517.2,1180.8 M510.6,1180.8 L524,1180.8" stroke="#0b0907" stroke-width="4.2" fill="none"/>
<path d="M528.5,1183.5 L528.5,1207 M521.8,1207 L535.2,1207" stroke="#0b0907" stroke-width="4.2" fill="none"/>
<path d="M539.8,976.2 L539.8,1015.4 M533,1015.4 L546.5,1015.4" stroke="#0b0907" stroke-width="4.2" fill="none"/>
<path d="M551,1047.1 L551,1102.9 M544.3,1102.9 L557.7,1102.9" stroke="#0b0907" stroke-width="4.2" fill="none"/>
<path d="M562.2,1142.9 L562.2,1182.2 M555.5,1182.2 L569,1182.2" stroke="#0b0907" stroke-width="4.2" fill="none"/>
<path d="M573.5,1143.6 L573.5,1176 M566.8,1176 L580.2,1176" stroke="#0b0907" stroke-width="4.2" fill="none"/>
<path d="M584.8,1189.1 L584.8,1204.2 M578,1204.2 L591.5,1204.2" stroke="#0b0907" stroke-width="4.2" fill="none"/>
<path d="M596,1167 L596,1183.5 M589.3,1183.5 L602.7,1183.5" stroke="#0b0907" stroke-width="4.2" fill="none"/>
<path d="M607.2,1177.3 L607.2,1191.8 M600.5,1191.8 L614,1191.8" stroke="#0b0907" stroke-width="4.2" fill="none"/>
<path d="M618.5,1198 L618.5,1214.6 M611.8,1214.6 L625.2,1214.6" stroke="#0b0907" stroke-width="4.2" fill="none"/>
<path d="M629.8,1199.4 L629.8,1217.3 M623,1217.3 L636.5,1217.3" stroke="#0b0907" stroke-width="4.2" fill="none"/>
<path d="M641,1203.5 L641,1210.4 M634.3,1210.4 L647.7,1210.4" stroke="#0b0907" stroke-width="4.2" fill="none"/>
<path d="M674.8,1200.8 L674.8,1210.4 M668,1210.4 L681.5,1210.4" stroke="#0b0907" stroke-width="4.2" fill="none"/>
<path d="M686,1205.6 L686,1213.9 M679.3,1213.9 L692.7,1213.9" stroke="#0b0907" stroke-width="4.2" fill="none"/>
<path d="M697.2,1201.5 L697.2,1218.7 M690.5,1218.7 L704,1218.7" stroke="#0b0907" stroke-width="4.2" fill="none"/>
<path d="M708.5,1018.9 L708.5,1060.2 M701.8,1060.2 L715.2,1060.2" stroke="#0b0907" stroke-width="4.2" fill="none"/>
<path d="M719.8,1092.6 L719.8,1123.6 M713,1123.6 L726.5,1123.6" stroke="#0b0907" stroke-width="4.2" fill="none"/>
<path d="M731,1132.6 L731,1155.3 M724.3,1155.3 L737.7,1155.3" stroke="#0b0907" stroke-width="4.2" fill="none"/>
<path d="M742.2,1150.5 L742.2,1172.5 M735.5,1172.5 L749,1172.5" stroke="#0b0907" stroke-width="4.2" fill="none"/>
<path d="M753.5,1189.1 L753.5,1203.5 M746.8,1203.5 L760.2,1203.5" stroke="#0b0907" stroke-width="4.2" fill="none"/>
<path d="M764.8,1177.3 L764.8,1198 M758,1198 L771.5,1198" stroke="#0b0907" stroke-width="4.2" fill="none"/>
<path d="M776,1186.3 L776,1202.8 M769.3,1202.8 L782.7,1202.8" stroke="#0b0907" stroke-width="4.2" fill="none"/>
<path d="M787.2,1160.8 L787.2,1182.9 M780.5,1182.9 L794,1182.9" stroke="#0b0907" stroke-width="4.2" fill="none"/>
<path d="M798.5,1190.4 L798.5,1204.2 M791.8,1204.2 L805.2,1204.2" stroke="#0b0907" stroke-width="4.2" fill="none"/>
<path d="M809.8,1149.8 L809.8,1173.9 M803,1173.9 L816.5,1173.9" stroke="#0b0907" stroke-width="4.2" fill="none"/>
<path d="M821,1180.8 L821,1202.8 M814.3,1202.8 L827.7,1202.8" stroke="#0b0907" stroke-width="4.2" fill="none"/>
<path d="M832.2,1165.6 L832.2,1188.4 M825.5,1188.4 L839,1188.4" stroke="#0b0907" stroke-width="4.2" fill="none"/>
<path d="M843.5,1160.8 L843.5,1201.5 M836.8,1201.5 L850.2,1201.5" stroke="#0b0907" stroke-width="4.2" fill="none"/>
<path d="M854.8,1203.5 L854.8,1213.9 M848,1213.9 L861.5,1213.9" stroke="#0b0907" stroke-width="4.2" fill="none"/>
<path d="M866,1182.2 L866,1209 M859.3,1209 L872.7,1209" stroke="#0b0907" stroke-width="4.2" fill="none"/>
<path d="M877.2,1054.7 L877.2,1097.4 M870.5,1097.4 L884,1097.4" stroke="#0b0907" stroke-width="4.2" fill="none"/>
<path d="M888.5,1080.2 L888.5,1114.6 M881.8,1114.6 L895.2,1114.6" stroke="#0b0907" stroke-width="4.2" fill="none"/>
<path d="M899.8,1122.2 L899.8,1150.5 M893,1150.5 L906.5,1150.5" stroke="#0b0907" stroke-width="4.2" fill="none"/>
<path d="M911,1170.5 L911,1198 M904.3,1198 L917.7,1198" stroke="#0b0907" stroke-width="4.2" fill="none"/>
<path d="M922.2,1205.6 L922.2,1218.7 M915.5,1218.7 L929,1218.7" stroke="#0b0907" stroke-width="4.2" fill="none"/>
<path d="M933.5,1186.3 L933.5,1199.4 M926.8,1199.4 L940.2,1199.4" stroke="#0b0907" stroke-width="4.2" fill="none"/>
<path d="M944.8,1185.6 L944.8,1201.5 M938,1201.5 L951.5,1201.5" stroke="#0b0907" stroke-width="4.2" fill="none"/>
<path d="M956,1190.4 L956,1208.3 M949.3,1208.3 L962.7,1208.3" stroke="#0b0907" stroke-width="4.2" fill="none"/>
<path d="M967.2,1149.8 L967.2,1176 M960.5,1176 L974,1176" stroke="#0b0907" stroke-width="4.2" fill="none"/>
<path d="M978.5,1208.3 L978.5,1220.8 M971.8,1220.8 L985.2,1220.8" stroke="#0b0907" stroke-width="4.2" fill="none"/>
<path d="M989.8,1211.1 L989.8,1221.4 M983,1221.4 L996.5,1221.4" stroke="#0b0907" stroke-width="4.2" fill="none"/>
<path d="M1001,1204.2 L1001,1215.9 M994.3,1215.9 L1007.7,1215.9" stroke="#0b0907" stroke-width="4.2" fill="none"/>
<path d="M1012.2,1154.6 L1012.2,1176 M1005.5,1176 L1019,1176" stroke="#0b0907" stroke-width="4.2" fill="none"/>
<path d="M1023.5,1193.9 L1023.5,1209 M1016.8,1209 L1030.2,1209" stroke="#0b0907" stroke-width="4.2" fill="none"/>
<path d="M1034.8,1181.5 L1034.8,1202.8 M1028,1202.8 L1041.5,1202.8" stroke="#0b0907" stroke-width="4.2" fill="none"/>
<path d="M1046,1034.7 L1046,1075.4 M1039.3,1075.4 L1052.7,1075.4" stroke="#0b0907" stroke-width="4.2" fill="none"/>
<path d="M1057.2,1101.6 L1057.2,1128.4 M1050.5,1128.4 L1064,1128.4" stroke="#0b0907" stroke-width="4.2" fill="none"/>
<path d="M1068.5,1169.8 L1068.5,1193.2 M1061.8,1193.2 L1075.2,1193.2" stroke="#0b0907" stroke-width="4.2" fill="none"/>
<path d="M1079.8,1192.5 L1079.8,1202.8 M1073,1202.8 L1086.5,1202.8" stroke="#0b0907" stroke-width="4.2" fill="none"/>
<path d="M1091,1193.9 L1091,1208.3 M1084.3,1208.3 L1097.7,1208.3" stroke="#0b0907" stroke-width="4.2" fill="none"/>
<path d="M1102.2,1192.5 L1102.2,1203.5 M1095.5,1203.5 L1109,1203.5" stroke="#0b0907" stroke-width="4.2" fill="none"/>
<path d="M1113.5,1195.3 L1113.5,1207 M1106.8,1207 L1120.2,1207" stroke="#0b0907" stroke-width="4.2" fill="none"/>
<path d="M1124.8,1185.6 L1124.8,1199.4 M1118,1199.4 L1131.5,1199.4" stroke="#0b0907" stroke-width="4.2" fill="none"/>
<path d="M1136,1209 L1136,1218.7 M1129.3,1218.7 L1142.7,1218.7" stroke="#0b0907" stroke-width="4.2" fill="none"/>
<path d="M1147.2,1147 L1147.2,1167.7 M1140.5,1167.7 L1154,1167.7" stroke="#0b0907" stroke-width="4.2" fill="none"/>
<path d="M1158.5,1193.9 L1158.5,1211.1 M1151.8,1211.1 L1165.2,1211.1" stroke="#0b0907" stroke-width="4.2" fill="none"/>
<path d="M1169.8,1177.3 L1169.8,1192.5 M1163,1192.5 L1176.5,1192.5" stroke="#0b0907" stroke-width="4.2" fill="none"/>
<path d="M1181,1185.6 L1181,1198 M1174.3,1198 L1187.7,1198" stroke="#0b0907" stroke-width="4.2" fill="none"/>
<path d="M1192.2,1195.9 L1192.2,1213.2 M1185.5,1213.2 L1199,1213.2" stroke="#0b0907" stroke-width="4.2" fill="none"/>
<path d="M1203.5,1201.5 L1203.5,1211.8 M1196.8,1211.8 L1210.2,1211.8" stroke="#0b0907" stroke-width="4.2" fill="none"/>
<path d="M1214.8,1040.9 L1214.8,1065.7 M1208,1065.7 L1221.5,1065.7" stroke="#0b0907" stroke-width="4.2" fill="none"/>
<path d="M1226,1076.1 L1226,1109.1 M1219.3,1109.1 L1232.7,1109.1" stroke="#0b0907" stroke-width="4.2" fill="none"/>
<path d="M1237.2,1155.3 L1237.2,1171.8 M1230.5,1171.8 L1244,1171.8" stroke="#0b0907" stroke-width="4.2" fill="none"/>
<path d="M1248.5,1182.2 L1248.5,1200.8 M1241.8,1200.8 L1255.2,1200.8" stroke="#0b0907" stroke-width="4.2" fill="none"/>
<path d="M1259.8,1173.2 L1259.8,1195.9 M1253,1195.9 L1266.5,1195.9" stroke="#0b0907" stroke-width="4.2" fill="none"/>
<path d="M1271,1180.8 L1271,1201.5 M1264.3,1201.5 L1277.7,1201.5" stroke="#0b0907" stroke-width="4.2" fill="none"/>
<path d="M1282.2,1153.9 L1282.2,1180.8 M1275.5,1180.8 L1289,1180.8" stroke="#0b0907" stroke-width="4.2" fill="none"/>
<path d="M1293.5,1165.6 L1293.5,1190.4 M1286.8,1190.4 L1300.2,1190.4" stroke="#0b0907" stroke-width="4.2" fill="none"/>
<path d="M1304.8,1192.5 L1304.8,1205.6 M1298,1205.6 L1311.5,1205.6" stroke="#0b0907" stroke-width="4.2" fill="none"/>
<path d="M1316,1173.2 L1316,1191.1 M1309.3,1191.1 L1322.7,1191.1" stroke="#0b0907" stroke-width="4.2" fill="none"/>
<path d="M1327.2,1195.9 L1327.2,1207 M1320.5,1207 L1334,1207" stroke="#0b0907" stroke-width="4.2" fill="none"/>
<path d="M1338.5,1158.1 L1338.5,1180.8 M1331.8,1180.8 L1345.2,1180.8" stroke="#0b0907" stroke-width="4.2" fill="none"/>
<path d="M1349.8,1156.7 L1349.8,1177.3 M1343,1177.3 L1356.5,1177.3" stroke="#0b0907" stroke-width="4.2" fill="none"/>
<path d="M1361,1178.7 L1361,1213.9 M1354.3,1213.9 L1367.7,1213.9" stroke="#0b0907" stroke-width="4.2" fill="none"/>
<path d="M1372.2,1160.1 L1372.2,1188.4 M1365.5,1188.4 L1379,1188.4" stroke="#0b0907" stroke-width="4.2" fill="none"/>
<path d="M1383.5,1037.5 L1383.5,1087.8 M1376.8,1087.8 L1390.2,1087.8" stroke="#0b0907" stroke-width="4.2" fill="none"/>
<path d="M1394.8,1067.8 L1394.8,1110.5 M1388,1110.5 L1401.5,1110.5" stroke="#0b0907" stroke-width="4.2" fill="none"/>
<path d="M1406,1173.2 L1406,1209 M1399.3,1209 L1412.7,1209" stroke="#0b0907" stroke-width="4.2" fill="none"/>
<path d="M1417.2,1190.4 L1417.2,1202.8 M1410.5,1202.8 L1424,1202.8" stroke="#0b0907" stroke-width="4.2" fill="none"/>
<path d="M1428.5,1190.4 L1428.5,1202.8 M1421.8,1202.8 L1435.2,1202.8" stroke="#0b0907" stroke-width="4.2" fill="none"/>
<polyline points="157.2,1242.8 168.5,1232.5 179.8,1229 191,1220.8 202.2,1016.8 213.5,1016.1 224.8,1142.9 236,1192.5 247.2,1182.2 258.5,1188.4 269.8,1207 281,1175.3 292.2,1200.8 303.5,1150.5 314.8,1167 326,1192.5 337.2,1203.5 348.5,1150.5 359.8,1159.4 371,983.7 382.2,989.9 393.5,1131.2 404.8,1187.7 416,1195.9 427.2,1199.4 438.5,1203.5 449.8,1182.9 461,1192.5 472.2,1167.7 483.5,1164.3 494.8,1204.2 506,1188.4 517.2,1164.3 528.5,1183.5 539.8,976.2 551,1047.1 562.2,1142.9 573.5,1143.6 584.8,1189.1 596,1167 607.2,1177.3 618.5,1198 629.8,1199.4 641,1203.5 652.2,1222.1 663.5,1223.5 674.8,1200.8 686,1205.6 697.2,1201.5 708.5,1018.9 719.8,1092.6 731,1132.6 742.2,1150.5 753.5,1189.1 764.8,1177.3 776,1186.3 787.2,1160.8 798.5,1190.4 809.8,1149.8 821,1180.8 832.2,1165.6 843.5,1160.8 854.8,1203.5 866,1182.2 877.2,1054.7 888.5,1080.2 899.8,1122.2 911,1170.5 922.2,1205.6 933.5,1186.3 944.8,1185.6 956,1190.4 967.2,1149.8 978.5,1208.3 989.8,1211.1 1001,1204.2 1012.2,1154.6 1023.5,1193.9 1034.8,1181.5 1046,1034.7 1057.2,1101.6 1068.5,1169.8 1079.8,1192.5 1091,1193.9 1102.2,1192.5 1113.5,1195.3 1124.8,1185.6 1136,1209 1147.2,1147 1158.5,1193.9 1169.8,1177.3 1181,1185.6 1192.2,1195.9 1203.5,1201.5 1214.8,1040.9 1226,1076.1 1237.2,1155.3 1248.5,1182.2 1259.8,1173.2 1271,1180.8 1282.2,1153.9 1293.5,1165.6 1304.8,1192.5 1316,1173.2 1327.2,1195.9 1338.5,1158.1 1349.8,1156.7 1361,1178.7 1372.2,1160.1 1383.5,1037.5 1394.8,1067.8 1406,1173.2 1417.2,1190.4 1428.5,1190.4" fill="none" stroke="#0b0907" stroke-width="4.4" stroke-linejoin="round"/>
<circle cx="157.2" cy="1242.8" r="9.1" fill="#1b1815"/>
<circle cx="168.5" cy="1232.5" r="9.1" fill="#1b1815"/>
<circle cx="179.8" cy="1229" r="9.1" fill="#1b1815"/>
<circle cx="191" cy="1220.8" r="9.1" fill="#1b1815"/>
<circle cx="202.2" cy="1016.8" r="9.1" fill="#1b1815"/>
<circle cx="213.5" cy="1016.1" r="9.1" fill="#1b1815"/>
<circle cx="224.8" cy="1142.9" r="9.1" fill="#1b1815"/>
<circle cx="236" cy="1192.5" r="9.1" fill="#1b1815"/>
<circle cx="247.2" cy="1182.2" r="9.1" fill="#1b1815"/>
<circle cx="258.5" cy="1188.4" r="9.1" fill="#1b1815"/>
<circle cx="269.8" cy="1207" r="9.1" fill="#1b1815"/>
<circle cx="281" cy="1175.3" r="9.1" fill="#1b1815"/>
<circle cx="292.2" cy="1200.8" r="9.1" fill="#1b1815"/>
<circle cx="303.5" cy="1150.5" r="9.1" fill="#1b1815"/>
<circle cx="314.8" cy="1167" r="9.1" fill="#1b1815"/>
<circle cx="326" cy="1192.5" r="9.1" fill="#1b1815"/>
<circle cx="337.2" cy="1203.5" r="9.1" fill="#1b1815"/>
<circle cx="348.5" cy="1150.5" r="9.1" fill="#1b1815"/>
<circle cx="359.8" cy="1159.4" r="9.1" fill="#1b1815"/>
<circle cx="371" cy="983.7" r="9.1" fill="#1b1815"/>
<circle cx="382.2" cy="989.9" r="9.1" fill="#1b1815"/>
<circle cx="393.5" cy="1131.2" r="9.1" fill="#1b1815"/>
<circle cx="404.8" cy="1187.7" r="9.1" fill="#1b1815"/>
<circle cx="416" cy="1195.9" r="9.1" fill="#1b1815"/>
<circle cx="427.2" cy="1199.4" r="9.1" fill="#1b1815"/>
<circle cx="438.5" cy="1203.5" r="9.1" fill="#1b1815"/>
<circle cx="449.8" cy="1182.9" r="9.1" fill="#1b1815"/>
<circle cx="461" cy="1192.5" r="9.1" fill="#1b1815"/>
<circle cx="472.2" cy="1167.7" r="9.1" fill="#1b1815"/>
<circle cx="483.5" cy="1164.3" r="9.1" fill="#1b1815"/>
<circle cx="494.8" cy="1204.2" r="9.1" fill="#1b1815"/>
<circle cx="506" cy="1188.4" r="9.1" fill="#1b1815"/>
<circle cx="517.2" cy="1164.3" r="9.1" fill="#1b1815"/>
<circle cx="528.5" cy="1183.5" r="9.1" fill="#1b1815"/>
<circle cx="539.8" cy="976.2" r="9.1" fill="#1b1815"/>
<circle cx="551" cy="1047.1" r="9.1" fill="#1b1815"/>
<circle cx="562.2" cy="1142.9" r="9.1" fill="#1b1815"/>
<circle cx="573.5" cy="1143.6" r="9.1" fill="#1b1815"/>
<circle cx="584.8" cy="1189.1" r="9.1" fill="#1b1815"/>
<circle cx="596" cy="1167" r="9.1" fill="#1b1815"/>
<circle cx="607.2" cy="1177.3" r="9.1" fill="#1b1815"/>
<circle cx="618.5" cy="1198" r="9.1" fill="#1b1815"/>
<circle cx="629.8" cy="1199.4" r="9.1" fill="#1b1815"/>
<circle cx="641" cy="1203.5" r="9.1" fill="#1b1815"/>
<circle cx="652.2" cy="1222.1" r="9.1" fill="#1b1815"/>
<circle cx="663.5" cy="1223.5" r="9.1" fill="#1b1815"/>
<circle cx="674.8" cy="1200.8" r="9.1" fill="#1b1815"/>
<circle cx="686" cy="1205.6" r="9.1" fill="#1b1815"/>
<circle cx="697.2" cy="1201.5" r="9.1" fill="#1b1815"/>
<circle cx="708.5" cy="1018.9" r="9.1" fill="#1b1815"/>
<circle cx="719.8" cy="1092.6" r="9.1" fill="#1b1815"/>
<circle cx="731" cy="1132.6" r="9.1" fill="#1b1815"/>
<circle cx="742.2" cy="1150.5" r="9.1" fill="#1b1815"/>
<circle cx="753.5" cy="1189.1" r="9.1" fill="#1b1815"/>
<circle cx="764.8" cy="1177.3" r="9.1" fill="#1b1815"/>
<circle cx="776" cy="1186.3" r="9.1" fill="#1b1815"/>
<circle cx="787.2" cy="1160.8" r="9.1" fill="#1b1815"/>
<circle cx="798.5" cy="1190.4" r="9.1" fill="#1b1815"/>
<circle cx="809.8" cy="1149.8" r="9.1" fill="#1b1815"/>
<circle cx="821" cy="1180.8" r="9.1" fill="#1b1815"/>
<circle cx="832.2" cy="1165.6" r="9.1" fill="#1b1815"/>
<circle cx="843.5" cy="1160.8" r="9.1" fill="#1b1815"/>
<circle cx="854.8" cy="1203.5" r="9.1" fill="#1b1815"/>
<circle cx="866" cy="1182.2" r="9.1" fill="#1b1815"/>
<circle cx="877.2" cy="1054.7" r="9.1" fill="#1b1815"/>
<circle cx="888.5" cy="1080.2" r="9.1" fill="#1b1815"/>
<circle cx="899.8" cy="1122.2" r="9.1" fill="#1b1815"/>
<circle cx="911" cy="1170.5" r="9.1" fill="#1b1815"/>
<circle cx="922.2" cy="1205.6" r="9.1" fill="#1b1815"/>
<circle cx="933.5" cy="1186.3" r="9.1" fill="#1b1815"/>
<circle cx="944.8" cy="1185.6" r="9.1" fill="#1b1815"/>
<circle cx="956" cy="1190.4" r="9.1" fill="#1b1815"/>
<circle cx="967.2" cy="1149.8" r="9.1" fill="#1b1815"/>
<circle cx="978.5" cy="1208.3" r="9.1" fill="#1b1815"/>
<circle cx="989.8" cy="1211.1" r="9.1" fill="#1b1815"/>
<circle cx="1001" cy="1204.2" r="9.1" fill="#1b1815"/>
<circle cx="1012.2" cy="1154.6" r="9.1" fill="#1b1815"/>
<circle cx="1023.5" cy="1193.9" r="9.1" fill="#1b1815"/>
<circle cx="1034.8" cy="1181.5" r="9.1" fill="#1b1815"/>
<circle cx="1046" cy="1034.7" r="9.1" fill="#1b1815"/>
<circle cx="1057.2" cy="1101.6" r="9.1" fill="#1b1815"/>
<circle cx="1068.5" cy="1169.8" r="9.1" fill="#1b1815"/>
<circle cx="1079.8" cy="1192.5" r="9.1" fill="#1b1815"/>
<circle cx="1091" cy="1193.9" r="9.1" fill="#1b1815"/>
<circle cx="1102.2" cy="1192.5" r="9.1" fill="#1b1815"/>
<circle cx="1113.5" cy="1195.3" r="9.1" fill="#1b1815"/>
<circle cx="1124.8" cy="1185.6" r="9.1" fill="#1b1815"/>
<circle cx="1136" cy="1209" r="9.1" fill="#1b1815"/>
<circle cx="1147.2" cy="1147" r="9.1" fill="#1b1815"/>
<circle cx="1158.5" cy="1193.9" r="9.1" fill="#1b1815"/>
<circle cx="1169.8" cy="1177.3" r="9.1" fill="#1b1815"/>
<circle cx="1181" cy="1185.6" r="9.1" fill="#1b1815"/>
<circle cx="1192.2" cy="1195.9" r="9.1" fill="#1b1815"/>
<circle cx="1203.5" cy="1201.5" r="9.1" fill="#1b1815"/>
<circle cx="1214.8" cy="1040.9" r="9.1" fill="#1b1815"/>
<circle cx="1226" cy="1076.1" r="9.1" fill="#1b1815"/>
<circle cx="1237.2" cy="1155.3" r="9.1" fill="#1b1815"/>
<circle cx="1248.5" cy="1182.2" r="9.1" fill="#1b1815"/>
<circle cx="1259.8" cy="1173.2" r="9.1" fill="#1b1815"/>
<circle cx="1271" cy="1180.8" r="9.1" fill="#1b1815"/>
<circle cx="1282.2" cy="1153.9" r="9.1" fill="#1b1815"/>
<circle cx="1293.5" cy="1165.6" r="9.1" fill="#1b1815"/>
<circle cx="1304.8" cy="1192.5" r="9.1" fill="#1b1815"/>
<circle cx="1316" cy="1173.2" r="9.1" fill="#1b1815"/>
<circle cx="1327.2" cy="1195.9" r="9.1" fill="#1b1815"/>
<circle cx="1338.5" cy="1158.1" r="9.1" fill="#1b1815"/>
<circle cx="1349.8" cy="1156.7" r="9.1" fill="#1b1815"/>
<circle cx="1361" cy="1178.7" r="9.1" fill="#1b1815"/>
<circle cx="1372.2" cy="1160.1" r="9.1" fill="#1b1815"/>
<circle cx="1383.5" cy="1037.5" r="9.1" fill="#1b1815"/>
<circle cx="1394.8" cy="1067.8" r="9.1" fill="#1b1815"/>
<circle cx="1406" cy="1173.2" r="9.1" fill="#1b1815"/>
<circle cx="1417.2" cy="1190.4" r="9.1" fill="#1b1815"/>
<circle cx="1428.5" cy="1190.4" r="9.1" fill="#1b1815"/>
<rect x="176" y="622.5" width="16" height="619.7" fill="rgb(66,28,244)" fill-opacity="0.45" stroke="none"/>
<rect x="356" y="622.5" width="15.7" height="619.7" fill="rgb(66,28,244)" fill-opacity="0.45" stroke="none"/>
<rect x="523" y="622.5" width="15.8" height="619.7" fill="rgb(66,28,244)" fill-opacity="0.45" stroke="none"/>
<rect x="689.4" y="622.5" width="15.8" height="619.7" fill="rgb(66,28,244)" fill-opacity="0.45" stroke="none"/>
<rect x="857" y="622.5" width="15.6" height="619.7" fill="rgb(66,28,244)" fill-opacity="0.45" stroke="none"/>
<rect x="1027.4" y="622.5" width="15.8" height="619.7" fill="rgb(66,28,244)" fill-opacity="0.45" stroke="none"/>
<rect x="1197" y="622.5" width="15.4" height="619.7" fill="rgb(66,28,244)" fill-opacity="0.45" stroke="none"/>
<rect x="1362.5" y="626" width="15.8" height="619" fill="rgb(66,28,244)" fill-opacity="0.45" stroke="none"/>
<text transform="translate(193.5,647) scale(1.085,1)" font-size="31.3">CS1</text>
<text transform="translate(406.2,648) scale(1.085,1)" font-size="31.3">CS2</text>
<text transform="translate(552.9,645.5) scale(1.085,1)" font-size="31.3">CS3</text>
<text transform="translate(729.2,646) scale(1.085,1)" font-size="31.3">CS4</text>
<text transform="translate(888.8,648) scale(1.085,1)" font-size="31.3">CS5</text>
<text transform="translate(1048.7,646) scale(1.085,1)" font-size="31.3">CS6</text>
<text transform="translate(1230.8,646) scale(1.085,1)" font-size="31.3">CS7</text>
<text transform="translate(1392.2,646) scale(1.085,1)" font-size="31.3">CS8</text>
</g>
</svg></body></html>
